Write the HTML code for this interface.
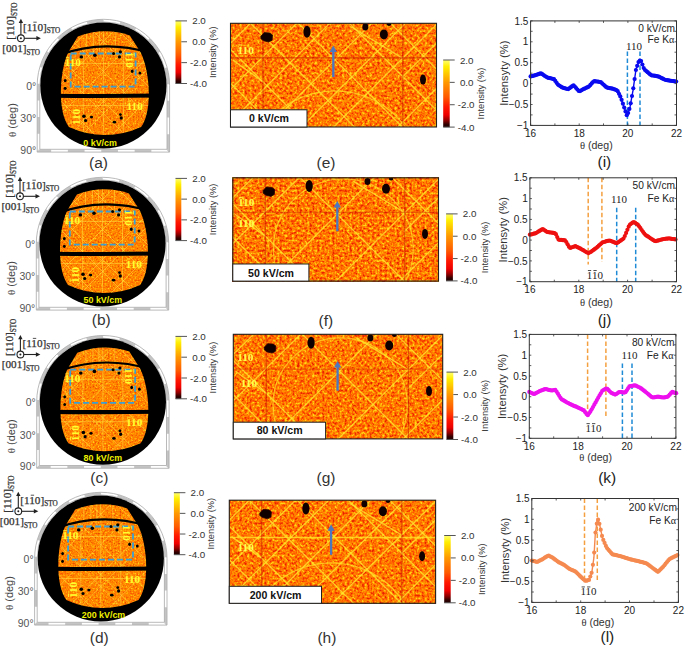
<!DOCTYPE html>
<html><head><meta charset="utf-8"><style>
html,body{margin:0;padding:0;background:#fff;}
svg{display:block;}
</style></head><body>
<svg width="685" height="648" viewBox="0 0 685 648">
<defs>
<linearGradient id="cbar" x1="0" y1="0" x2="0" y2="1">
<stop offset="0" stop-color="#ffff70"/>
<stop offset="0.1" stop-color="#ffee00"/>
<stop offset="0.33" stop-color="#ff9a00"/>
<stop offset="0.55" stop-color="#ff5a00"/>
<stop offset="0.7" stop-color="#ff1800"/>
<stop offset="0.82" stop-color="#ee0000"/>
<stop offset="0.9" stop-color="#900000"/>
<stop offset="0.96" stop-color="#300000"/>
<stop offset="1" stop-color="#200000"/>
</linearGradient>
<filter id="hotL0" x="0" y="0" width="1" height="1" color-interpolation-filters="sRGB">
<feTurbulence type="fractalNoise" baseFrequency="0.6" numOctaves="2" seed="3"/>
<feColorMatrix type="matrix" values="1.7 0 0 0 -0.35 1.7 0 0 0 -0.35 1.7 0 0 0 -0.35 0 0 0 0 1"/>
<feComponentTransfer>
<feFuncR type="table" tableValues="0.9 1 1 1 1"/>
<feFuncG type="table" tableValues="0.3 0.42 0.52 0.62 0.8"/>
<feFuncB type="table" tableValues="0 0 0 0 0.1"/>
</feComponentTransfer>
<feGaussianBlur stdDeviation="0.35"/>
</filter>
<clipPath id="barrel0"><path d="M77.80,36.50 Q103.80,26.60 129.80,35.40 L140.40,52.00 C149.90,70.50 152.90,110.50 141.10,127.00 Q105.00,143.20 68.90,127.00 C56.90,110.50 59.90,70.50 67.90,53.00 L77.80,36.50 Z"/></clipPath>
<filter id="hotL1" x="0" y="0" width="1" height="1" color-interpolation-filters="sRGB">
<feTurbulence type="fractalNoise" baseFrequency="0.6" numOctaves="2" seed="7"/>
<feColorMatrix type="matrix" values="1.7 0 0 0 -0.35 1.7 0 0 0 -0.35 1.7 0 0 0 -0.35 0 0 0 0 1"/>
<feComponentTransfer>
<feFuncR type="table" tableValues="0.9 1 1 1 1"/>
<feFuncG type="table" tableValues="0.3 0.42 0.52 0.62 0.8"/>
<feFuncB type="table" tableValues="0 0 0 0 0.1"/>
</feComponentTransfer>
<feGaussianBlur stdDeviation="0.35"/>
</filter>
<clipPath id="barrel1"><path d="M76.90,194.50 Q102.90,184.60 128.90,193.40 L139.50,210.00 C149.00,228.50 152.00,268.50 140.20,285.00 Q104.10,301.20 68.00,285.00 C56.00,268.50 59.00,228.50 67.00,211.00 L76.90,194.50 Z"/></clipPath>
<filter id="hotL2" x="0" y="0" width="1" height="1" color-interpolation-filters="sRGB">
<feTurbulence type="fractalNoise" baseFrequency="0.6" numOctaves="2" seed="11"/>
<feColorMatrix type="matrix" values="1.7 0 0 0 -0.35 1.7 0 0 0 -0.35 1.7 0 0 0 -0.35 0 0 0 0 1"/>
<feComponentTransfer>
<feFuncR type="table" tableValues="0.9 1 1 1 1"/>
<feFuncG type="table" tableValues="0.3 0.42 0.52 0.62 0.8"/>
<feFuncB type="table" tableValues="0 0 0 0 0.1"/>
</feComponentTransfer>
<feGaussianBlur stdDeviation="0.35"/>
</filter>
<clipPath id="barrel2"><path d="M77.30,352.70 Q103.30,342.80 129.30,351.60 L139.90,368.20 C149.40,386.70 152.40,426.70 140.60,443.20 Q104.50,459.40 68.40,443.20 C56.40,426.70 59.40,386.70 67.40,369.20 L77.30,352.70 Z"/></clipPath>
<filter id="hotL3" x="0" y="0" width="1" height="1" color-interpolation-filters="sRGB">
<feTurbulence type="fractalNoise" baseFrequency="0.6" numOctaves="2" seed="17"/>
<feColorMatrix type="matrix" values="1.7 0 0 0 -0.35 1.7 0 0 0 -0.35 1.7 0 0 0 -0.35 0 0 0 0 1"/>
<feComponentTransfer>
<feFuncR type="table" tableValues="0.9 1 1 1 1"/>
<feFuncG type="table" tableValues="0.3 0.42 0.52 0.62 0.8"/>
<feFuncB type="table" tableValues="0 0 0 0 0.1"/>
</feComponentTransfer>
<feGaussianBlur stdDeviation="0.35"/>
</filter>
<clipPath id="barrel3"><path d="M75.20,509.50 Q101.20,499.60 127.20,508.40 L137.80,525.00 C147.30,543.50 150.30,583.50 138.50,600.00 Q102.40,616.20 66.30,600.00 C54.30,583.50 57.30,543.50 65.30,526.00 L75.20,509.50 Z"/></clipPath>
<filter id="hotM0" x="0" y="0" width="1" height="1" color-interpolation-filters="sRGB">
<feTurbulence type="fractalNoise" baseFrequency="0.4" numOctaves="2" seed="21"/>
<feColorMatrix type="matrix" values="1.9 0 0 0 -0.44999999999999996 1.9 0 0 0 -0.44999999999999996 1.9 0 0 0 -0.44999999999999996 0 0 0 0 1"/>
<feComponentTransfer>
<feFuncR type="table" tableValues="0.9 1 1 1 1"/>
<feFuncG type="table" tableValues="0.14 0.31 0.47 0.62 0.84"/>
<feFuncB type="table" tableValues="0 0 0 0 0.1"/>
</feComponentTransfer>
<feGaussianBlur stdDeviation="0.35"/>
</filter>
<clipPath id="mclip0"><rect x="230.5" y="23.3" width="206.0" height="103.7"/></clipPath>
<filter id="hotM1" x="0" y="0" width="1" height="1" color-interpolation-filters="sRGB">
<feTurbulence type="fractalNoise" baseFrequency="0.4" numOctaves="2" seed="23"/>
<feColorMatrix type="matrix" values="1.9 0 0 0 -0.44999999999999996 1.9 0 0 0 -0.44999999999999996 1.9 0 0 0 -0.44999999999999996 0 0 0 0 1"/>
<feComponentTransfer>
<feFuncR type="table" tableValues="0.9 1 1 1 1"/>
<feFuncG type="table" tableValues="0.14 0.31 0.47 0.62 0.84"/>
<feFuncB type="table" tableValues="0 0 0 0 0.1"/>
</feComponentTransfer>
<feGaussianBlur stdDeviation="0.35"/>
</filter>
<clipPath id="mclip1"><rect x="232.8" y="177.8" width="205.7" height="103.30000000000001"/></clipPath>
<filter id="hotM2" x="0" y="0" width="1" height="1" color-interpolation-filters="sRGB">
<feTurbulence type="fractalNoise" baseFrequency="0.4" numOctaves="2" seed="29"/>
<feColorMatrix type="matrix" values="1.9 0 0 0 -0.44999999999999996 1.9 0 0 0 -0.44999999999999996 1.9 0 0 0 -0.44999999999999996 0 0 0 0 1"/>
<feComponentTransfer>
<feFuncR type="table" tableValues="0.9 1 1 1 1"/>
<feFuncG type="table" tableValues="0.14 0.31 0.47 0.62 0.84"/>
<feFuncB type="table" tableValues="0 0 0 0 0.1"/>
</feComponentTransfer>
<feGaussianBlur stdDeviation="0.35"/>
</filter>
<clipPath id="mclip2"><rect x="233.3" y="334.3" width="209.39999999999998" height="104.59999999999997"/></clipPath>
<filter id="hotM3" x="0" y="0" width="1" height="1" color-interpolation-filters="sRGB">
<feTurbulence type="fractalNoise" baseFrequency="0.4" numOctaves="2" seed="31"/>
<feColorMatrix type="matrix" values="1.9 0 0 0 -0.44999999999999996 1.9 0 0 0 -0.44999999999999996 1.9 0 0 0 -0.44999999999999996 0 0 0 0 1"/>
<feComponentTransfer>
<feFuncR type="table" tableValues="0.9 1 1 1 1"/>
<feFuncG type="table" tableValues="0.14 0.31 0.47 0.62 0.84"/>
<feFuncB type="table" tableValues="0 0 0 0 0.1"/>
</feComponentTransfer>
<feGaussianBlur stdDeviation="0.35"/>
</filter>
<clipPath id="mclip3"><rect x="229.3" y="500.2" width="206.3" height="103.09999999999997"/></clipPath>
</defs>
<rect width="685" height="648" fill="#fff"/>
<path d="M38.50,150.70 L38.50,85.50 A64.9,64.9 0 0 1 168.30,85.50 L168.30,150.70 Z" fill="none" stroke="#c4c4c4" stroke-width="2.4" stroke-dasharray="16.7 16.7" stroke-dashoffset="16.5"/>
<path d="M37.20,152.10 L37.20,85.50 A66.2,66.2 0 0 1 169.60,85.50 L169.60,152.10 Z" fill="none" stroke="#a8a8a8" stroke-width="0.8"/>
<path d="M39.80,149.30 L39.80,85.50 A63.6,63.6 0 0 1 167.00,85.50 L167.00,149.30 Z" fill="none" stroke="#a8a8a8" stroke-width="0.8"/>
<circle cx="103.4" cy="85.5" r="63.1" fill="#000"/>
<g clip-path="url(#barrel0)"><rect x="48.400000000000006" y="23.5" width="110" height="120" filter="url(#hotL0)"/>
<g stroke="#ffe040" stroke-width="0.8" stroke-opacity="0.65"><line x1="99.4" y1="29.5" x2="99.4" y2="51.5"/><line x1="103.4" y1="29.5" x2="103.4" y2="51.5"/><line x1="115.4" y1="29.5" x2="115.4" y2="51.5"/><line x1="86.4" y1="29.5" x2="86.4" y2="51.5"/><line x1="93.4" y1="29.5" x2="93.4" y2="51.5"/><line x1="149.4" y1="25.5" x2="29.400000000000006" y2="145.5"/><line x1="179.4" y1="25.5" x2="59.400000000000006" y2="145.5"/><line x1="119.4" y1="25.5" x2="-0.5999999999999943" y2="145.5"/><line x1="191.4" y1="25.5" x2="71.4" y2="145.5"/><line x1="221.4" y1="25.5" x2="101.4" y2="145.5"/><line x1="93.4" y1="25.5" x2="-26.599999999999994" y2="145.5"/><line x1="57.400000000000006" y1="25.5" x2="177.4" y2="145.5"/><line x1="27.400000000000006" y1="25.5" x2="147.4" y2="145.5"/><line x1="87.4" y1="25.5" x2="207.4" y2="145.5"/><line x1="15.400000000000006" y1="25.5" x2="135.4" y2="145.5"/><line x1="-14.599999999999994" y1="25.5" x2="105.4" y2="145.5"/><line x1="113.4" y1="25.5" x2="233.4" y2="145.5"/><line x1="53.400000000000006" y1="63.5" x2="153.4" y2="63.5"/><line x1="53.400000000000006" y1="105.5" x2="153.4" y2="105.5"/><line x1="103.4" y1="51.5" x2="103.4" y2="145.5"/><line x1="83.4" y1="51.5" x2="83.4" y2="145.5"/><line x1="123.4" y1="51.5" x2="123.4" y2="145.5"/></g>
</g>
<path d="M51.400000000000006,95.7 Q106.4,96.3 161.4,95.5" stroke="#000" stroke-width="4.1" fill="none"/>
<path d="M58.400000000000006,55.2 Q103.5,38.8 149.4,52.8" stroke="#000" stroke-width="2.1" fill="none"/>
<rect x="70.7" y="53.5" width="64.9" height="33.1" fill="none" stroke="#3a9fd4" stroke-width="1.8" stroke-dasharray="6 3"/>
<ellipse cx="81.30000000000001" cy="56.9" rx="1.8" ry="1.6" fill="#000"/>
<ellipse cx="94.9" cy="55.2" rx="1.8" ry="1.8" fill="#000"/>
<ellipse cx="113.60000000000001" cy="53.5" rx="1.5" ry="1.5" fill="#000"/>
<ellipse cx="120.4" cy="51.8" rx="1.6" ry="1.6" fill="#000"/>
<ellipse cx="119.5" cy="56.9" rx="1.6" ry="1.6" fill="#000"/>
<ellipse cx="132.20000000000002" cy="71.3" rx="1.4" ry="1.8" fill="#000"/>
<ellipse cx="139.9" cy="73.0" rx="1.4" ry="1.6" fill="#000"/>
<ellipse cx="65.2" cy="80.6" rx="1.4" ry="1.6" fill="#000"/>
<ellipse cx="65.2" cy="88.3" rx="1.4" ry="1.6" fill="#000"/>
<ellipse cx="83.9" cy="116.3" rx="1.8" ry="1.8" fill="#000"/>
<ellipse cx="85.60000000000001" cy="120.5" rx="1.6" ry="1.6" fill="#000"/>
<ellipse cx="91.5" cy="117.1" rx="1.6" ry="1.4" fill="#000"/>
<ellipse cx="114.4" cy="122.2" rx="1.8" ry="1.4" fill="#000"/>
<ellipse cx="121.2" cy="118.0" rx="1.6" ry="1.8" fill="#000"/>
<ellipse cx="120.4" cy="114.6" rx="1.4" ry="1.4" fill="#000"/>
<g transform="translate(64.80,66.20) rotate(0)"><text x="0" y="0" font-family='"Liberation Serif", serif' font-size="11.2" font-weight="bold" fill="#ffff30">110</text><line x1="1.12" y1="-8.51" x2="4.48" y2="-8.51" stroke="#ffff30" stroke-width="0.84"/></g>
<g transform="translate(126.60,109.50) rotate(0)"><text x="0" y="0" font-family='"Liberation Serif", serif' font-size="11.2" font-weight="bold" fill="#ffff30">110</text><line x1="1.12" y1="-8.51" x2="4.48" y2="-8.51" stroke="#ffff30" stroke-width="0.84"/></g>
<g transform="translate(125.80,51.70) rotate(90)"><text x="0" y="0" font-family='"Liberation Serif", serif' font-size="11.2" font-weight="bold" fill="#ffff30">110</text><line x1="1.12" y1="-8.51" x2="4.48" y2="-8.51" stroke="#ffff30" stroke-width="0.84"/></g>
<g transform="translate(79.60,125.10) rotate(-90)"><text x="0" y="0" font-family='"Liberation Serif", serif' font-size="11.2" font-weight="bold" fill="#ffff30">110</text><line x1="1.12" y1="-8.51" x2="4.48" y2="-8.51" stroke="#ffff30" stroke-width="0.84"/></g>
<text x="83.30" y="145.70" font-family='"Liberation Sans", sans-serif' font-size="8.9" fill="#f0f000" text-anchor="start" font-weight="bold" >0 kV/cm</text>
<text x="36.20" y="89.50" font-family='"Liberation Sans", sans-serif' font-size="10.5" fill="#555" text-anchor="end" font-weight="normal" >0°</text>
<text x="36.20" y="122.30" font-family='"Liberation Sans", sans-serif' font-size="10.5" fill="#555" text-anchor="end" font-weight="normal" >30°</text>
<text x="36.20" y="153.70" font-family='"Liberation Sans", sans-serif' font-size="10.5" fill="#555" text-anchor="end" font-weight="normal" >90°</text>
<text x="0" y="0" transform="translate(15.900000000000006,120.1) rotate(-90)" font-family='"Liberation Sans", sans-serif' font-size="11" fill="#444" text-anchor="middle"><tspan font-family='"Liberation Serif", serif'>θ</tspan> (deg)</text>
<text x="98.50" y="167.50" font-family='"Liberation Sans", sans-serif' font-size="15.5" fill="#333" text-anchor="middle" font-weight="normal" >(a)</text>
<circle cx="20.900000000000006" cy="38.3" r="3.4" fill="none" stroke="#222" stroke-width="1.1"/>
<circle cx="20.900000000000006" cy="38.3" r="1" fill="#222"/>
<line x1="20.900000000000006" y1="34.9" x2="20.900000000000006" y2="22.299999999999997" stroke="#222" stroke-width="1.1"/>
<path d="M18.700000000000006,23.099999999999998 L20.900000000000006,18.699999999999996 L23.100000000000005,23.099999999999998 Z" fill="#222"/>
<line x1="24.300000000000004" y1="38.3" x2="37.400000000000006" y2="38.3" stroke="#222" stroke-width="1.1"/>
<path d="M36.400000000000006,36.099999999999994 L40.900000000000006,38.3 L36.400000000000006,40.5 Z" fill="#222"/>
<g transform="translate(13.800000000000006,39.8) rotate(-90)"><text x="0" y="0" font-family='"Liberation Serif", serif' font-size="11.2" fill="#333" stroke="#333" stroke-width="0.25">[110]<tspan font-size="7.2" dy="2.8">STO</tspan></text></g>
<g transform="translate(22.90,30.70) rotate(0)"><text x="0" y="0" font-family='"Liberation Serif", serif' font-size="11.2" font-weight="normal" fill="#333" stroke="#333" stroke-width="0.25">[110]<tspan font-size="7.2" dy="2.46">STO</tspan></text><line x1="10.45" y1="-8.51" x2="13.81" y2="-8.51" stroke="#333" stroke-width="0.84"/></g>
<text x="2.3000000000000043" y="52.199999999999996" font-family='"Liberation Serif", serif' font-size="11.2" fill="#333" stroke="#333" stroke-width="0.25">[001]<tspan font-size="7.2" dy="2.5">STO</tspan></text>
<rect x="175.5" y="20.9" width="5.800000000000011" height="62.6" fill="url(#cbar)"/>
<line x1="175.5" y1="20.90" x2="187.0" y2="20.90" stroke="#555" stroke-width="1"/>
<text x="192.20" y="24.43" font-family='"Liberation Sans", sans-serif' font-size="9.8" fill="#333" text-anchor="start" font-weight="normal" >2.0</text>
<line x1="181.3" y1="41.77" x2="187.0" y2="41.77" stroke="#555" stroke-width="1"/>
<text x="192.20" y="45.29" font-family='"Liberation Sans", sans-serif' font-size="9.8" fill="#333" text-anchor="start" font-weight="normal" >0.0</text>
<line x1="181.3" y1="62.63" x2="187.0" y2="62.63" stroke="#555" stroke-width="1"/>
<text x="190.00" y="66.16" font-family='"Liberation Sans", sans-serif' font-size="9.8" fill="#333" text-anchor="start" font-weight="normal" >-2.0</text>
<line x1="175.5" y1="83.50" x2="187.0" y2="83.50" stroke="#555" stroke-width="1"/>
<text x="190.00" y="87.03" font-family='"Liberation Sans", sans-serif' font-size="9.8" fill="#333" text-anchor="start" font-weight="normal" >-4.0</text>
<text x="0" y="0" transform="translate(215.90,52.20) rotate(-90)" font-family='"Liberation Sans", sans-serif' font-size="9.3" fill="#333" text-anchor="middle">Intensity (%)</text>
<path d="M37.60,308.70 L37.60,243.50 A64.9,64.9 0 0 1 167.40,243.50 L167.40,308.70 Z" fill="none" stroke="#c4c4c4" stroke-width="2.4" stroke-dasharray="16.7 16.7" stroke-dashoffset="16.5"/>
<path d="M36.30,310.10 L36.30,243.50 A66.2,66.2 0 0 1 168.70,243.50 L168.70,310.10 Z" fill="none" stroke="#a8a8a8" stroke-width="0.8"/>
<path d="M38.90,307.30 L38.90,243.50 A63.6,63.6 0 0 1 166.10,243.50 L166.10,307.30 Z" fill="none" stroke="#a8a8a8" stroke-width="0.8"/>
<circle cx="102.5" cy="243.5" r="63.1" fill="#000"/>
<g clip-path="url(#barrel1)"><rect x="47.5" y="181.5" width="110" height="120" filter="url(#hotL1)"/>
<g stroke="#ffe040" stroke-width="0.8" stroke-opacity="0.65"><line x1="98.5" y1="187.5" x2="98.5" y2="209.5"/><line x1="102.5" y1="187.5" x2="102.5" y2="209.5"/><line x1="114.5" y1="187.5" x2="114.5" y2="209.5"/><line x1="85.5" y1="187.5" x2="85.5" y2="209.5"/><line x1="92.5" y1="187.5" x2="92.5" y2="209.5"/><line x1="148.5" y1="183.5" x2="28.5" y2="303.5"/><line x1="178.5" y1="183.5" x2="58.5" y2="303.5"/><line x1="118.5" y1="183.5" x2="-1.5" y2="303.5"/><line x1="190.5" y1="183.5" x2="70.5" y2="303.5"/><line x1="220.5" y1="183.5" x2="100.5" y2="303.5"/><line x1="92.5" y1="183.5" x2="-27.5" y2="303.5"/><line x1="56.5" y1="183.5" x2="176.5" y2="303.5"/><line x1="26.5" y1="183.5" x2="146.5" y2="303.5"/><line x1="86.5" y1="183.5" x2="206.5" y2="303.5"/><line x1="14.5" y1="183.5" x2="134.5" y2="303.5"/><line x1="-15.5" y1="183.5" x2="104.5" y2="303.5"/><line x1="112.5" y1="183.5" x2="232.5" y2="303.5"/><line x1="52.5" y1="221.5" x2="152.5" y2="221.5"/><line x1="52.5" y1="263.5" x2="152.5" y2="263.5"/><line x1="102.5" y1="209.5" x2="102.5" y2="303.5"/><line x1="82.5" y1="209.5" x2="82.5" y2="303.5"/><line x1="122.5" y1="209.5" x2="122.5" y2="303.5"/></g>
</g>
<path d="M50.5,253.7 Q105.5,254.3 160.5,253.5" stroke="#000" stroke-width="4.1" fill="none"/>
<path d="M57.5,213.2 Q102.6,196.8 148.5,210.8" stroke="#000" stroke-width="2.1" fill="none"/>
<rect x="69.8" y="211.5" width="64.9" height="33.1" fill="none" stroke="#3a9fd4" stroke-width="1.8" stroke-dasharray="6 3"/>
<ellipse cx="80.4" cy="214.9" rx="1.8" ry="1.6" fill="#000"/>
<ellipse cx="94.0" cy="213.2" rx="1.8" ry="1.8" fill="#000"/>
<ellipse cx="112.7" cy="211.5" rx="1.5" ry="1.5" fill="#000"/>
<ellipse cx="119.5" cy="209.8" rx="1.6" ry="1.6" fill="#000"/>
<ellipse cx="118.6" cy="214.9" rx="1.6" ry="1.6" fill="#000"/>
<ellipse cx="131.3" cy="229.3" rx="1.4" ry="1.8" fill="#000"/>
<ellipse cx="139.0" cy="231.0" rx="1.4" ry="1.6" fill="#000"/>
<ellipse cx="64.3" cy="238.6" rx="1.4" ry="1.6" fill="#000"/>
<ellipse cx="64.3" cy="246.3" rx="1.4" ry="1.6" fill="#000"/>
<ellipse cx="83.0" cy="274.3" rx="1.8" ry="1.8" fill="#000"/>
<ellipse cx="84.7" cy="278.5" rx="1.6" ry="1.6" fill="#000"/>
<ellipse cx="90.6" cy="275.1" rx="1.6" ry="1.4" fill="#000"/>
<ellipse cx="113.5" cy="280.2" rx="1.8" ry="1.4" fill="#000"/>
<ellipse cx="120.3" cy="276.0" rx="1.6" ry="1.8" fill="#000"/>
<ellipse cx="119.5" cy="272.6" rx="1.4" ry="1.4" fill="#000"/>
<g transform="translate(63.90,224.20) rotate(0)"><text x="0" y="0" font-family='"Liberation Serif", serif' font-size="11.2" font-weight="bold" fill="#ffff30">110</text><line x1="1.12" y1="-8.51" x2="4.48" y2="-8.51" stroke="#ffff30" stroke-width="0.84"/></g>
<g transform="translate(125.70,267.50) rotate(0)"><text x="0" y="0" font-family='"Liberation Serif", serif' font-size="11.2" font-weight="bold" fill="#ffff30">110</text><line x1="1.12" y1="-8.51" x2="4.48" y2="-8.51" stroke="#ffff30" stroke-width="0.84"/></g>
<g transform="translate(124.90,209.70) rotate(90)"><text x="0" y="0" font-family='"Liberation Serif", serif' font-size="11.2" font-weight="bold" fill="#ffff30">110</text><line x1="1.12" y1="-8.51" x2="4.48" y2="-8.51" stroke="#ffff30" stroke-width="0.84"/></g>
<g transform="translate(78.70,283.10) rotate(-90)"><text x="0" y="0" font-family='"Liberation Serif", serif' font-size="11.2" font-weight="bold" fill="#ffff30">110</text><line x1="1.12" y1="-8.51" x2="4.48" y2="-8.51" stroke="#ffff30" stroke-width="0.84"/></g>
<text x="83.60" y="303.10" font-family='"Liberation Sans", sans-serif' font-size="8.9" fill="#f0f000" text-anchor="start" font-weight="bold" >50 kV/cm</text>
<text x="35.30" y="247.50" font-family='"Liberation Sans", sans-serif' font-size="10.5" fill="#555" text-anchor="end" font-weight="normal" >0°</text>
<text x="35.30" y="280.30" font-family='"Liberation Sans", sans-serif' font-size="10.5" fill="#555" text-anchor="end" font-weight="normal" >30°</text>
<text x="35.30" y="311.70" font-family='"Liberation Sans", sans-serif' font-size="10.5" fill="#555" text-anchor="end" font-weight="normal" >90°</text>
<text x="0" y="0" transform="translate(15.0,278.1) rotate(-90)" font-family='"Liberation Sans", sans-serif' font-size="11" fill="#444" text-anchor="middle"><tspan font-family='"Liberation Serif", serif'>θ</tspan> (deg)</text>
<text x="101.20" y="325.20" font-family='"Liberation Sans", sans-serif' font-size="15.5" fill="#333" text-anchor="middle" font-weight="normal" >(b)</text>
<circle cx="20.0" cy="196.3" r="3.4" fill="none" stroke="#222" stroke-width="1.1"/>
<circle cx="20.0" cy="196.3" r="1" fill="#222"/>
<line x1="20.0" y1="192.9" x2="20.0" y2="180.3" stroke="#222" stroke-width="1.1"/>
<path d="M17.8,181.10000000000002 L20.0,176.70000000000002 L22.2,181.10000000000002 Z" fill="#222"/>
<line x1="23.4" y1="196.3" x2="36.5" y2="196.3" stroke="#222" stroke-width="1.1"/>
<path d="M35.5,194.10000000000002 L40.0,196.3 L35.5,198.5 Z" fill="#222"/>
<g transform="translate(12.9,197.8) rotate(-90)"><text x="0" y="0" font-family='"Liberation Serif", serif' font-size="11.2" fill="#333" stroke="#333" stroke-width="0.25">[110]<tspan font-size="7.2" dy="2.8">STO</tspan></text></g>
<g transform="translate(22.00,188.70) rotate(0)"><text x="0" y="0" font-family='"Liberation Serif", serif' font-size="11.2" font-weight="normal" fill="#333" stroke="#333" stroke-width="0.25">[110]<tspan font-size="7.2" dy="2.46">STO</tspan></text><line x1="10.45" y1="-8.51" x2="13.81" y2="-8.51" stroke="#333" stroke-width="0.84"/></g>
<text x="1.3999999999999986" y="210.20000000000002" font-family='"Liberation Serif", serif' font-size="11.2" fill="#333" stroke="#333" stroke-width="0.25">[001]<tspan font-size="7.2" dy="2.5">STO</tspan></text>
<rect x="175.5" y="178.4" width="5.800000000000011" height="62.19999999999999" fill="url(#cbar)"/>
<line x1="175.5" y1="178.40" x2="187.0" y2="178.40" stroke="#555" stroke-width="1"/>
<text x="192.20" y="181.93" font-family='"Liberation Sans", sans-serif' font-size="9.8" fill="#333" text-anchor="start" font-weight="normal" >2.0</text>
<line x1="181.3" y1="199.13" x2="187.0" y2="199.13" stroke="#555" stroke-width="1"/>
<text x="192.20" y="202.66" font-family='"Liberation Sans", sans-serif' font-size="9.8" fill="#333" text-anchor="start" font-weight="normal" >0.0</text>
<line x1="181.3" y1="219.87" x2="187.0" y2="219.87" stroke="#555" stroke-width="1"/>
<text x="190.00" y="223.39" font-family='"Liberation Sans", sans-serif' font-size="9.8" fill="#333" text-anchor="start" font-weight="normal" >-2.0</text>
<line x1="175.5" y1="240.60" x2="187.0" y2="240.60" stroke="#555" stroke-width="1"/>
<text x="190.00" y="244.13" font-family='"Liberation Sans", sans-serif' font-size="9.8" fill="#333" text-anchor="start" font-weight="normal" >-4.0</text>
<text x="0" y="0" transform="translate(215.90,209.50) rotate(-90)" font-family='"Liberation Sans", sans-serif' font-size="9.3" fill="#333" text-anchor="middle">Intensity (%)</text>
<path d="M38.00,466.90 L38.00,401.70 A64.9,64.9 0 0 1 167.80,401.70 L167.80,466.90 Z" fill="none" stroke="#c4c4c4" stroke-width="2.4" stroke-dasharray="16.7 16.7" stroke-dashoffset="16.5"/>
<path d="M36.70,468.30 L36.70,401.70 A66.2,66.2 0 0 1 169.10,401.70 L169.10,468.30 Z" fill="none" stroke="#a8a8a8" stroke-width="0.8"/>
<path d="M39.30,465.50 L39.30,401.70 A63.6,63.6 0 0 1 166.50,401.70 L166.50,465.50 Z" fill="none" stroke="#a8a8a8" stroke-width="0.8"/>
<circle cx="102.9" cy="401.7" r="63.1" fill="#000"/>
<g clip-path="url(#barrel2)"><rect x="47.900000000000006" y="339.7" width="110" height="120" filter="url(#hotL2)"/>
<g stroke="#ffe040" stroke-width="0.8" stroke-opacity="0.65"><line x1="98.9" y1="345.7" x2="98.9" y2="367.7"/><line x1="102.9" y1="345.7" x2="102.9" y2="367.7"/><line x1="114.9" y1="345.7" x2="114.9" y2="367.7"/><line x1="85.9" y1="345.7" x2="85.9" y2="367.7"/><line x1="92.9" y1="345.7" x2="92.9" y2="367.7"/><line x1="148.9" y1="341.7" x2="28.900000000000006" y2="461.7"/><line x1="178.9" y1="341.7" x2="58.900000000000006" y2="461.7"/><line x1="118.9" y1="341.7" x2="-1.0999999999999943" y2="461.7"/><line x1="190.9" y1="341.7" x2="70.9" y2="461.7"/><line x1="220.9" y1="341.7" x2="100.9" y2="461.7"/><line x1="92.9" y1="341.7" x2="-27.099999999999994" y2="461.7"/><line x1="56.900000000000006" y1="341.7" x2="176.9" y2="461.7"/><line x1="26.900000000000006" y1="341.7" x2="146.9" y2="461.7"/><line x1="86.9" y1="341.7" x2="206.9" y2="461.7"/><line x1="14.900000000000006" y1="341.7" x2="134.9" y2="461.7"/><line x1="-15.099999999999994" y1="341.7" x2="104.9" y2="461.7"/><line x1="112.9" y1="341.7" x2="232.9" y2="461.7"/><line x1="52.900000000000006" y1="379.7" x2="152.9" y2="379.7"/><line x1="52.900000000000006" y1="421.7" x2="152.9" y2="421.7"/><line x1="102.9" y1="367.7" x2="102.9" y2="461.7"/><line x1="82.9" y1="367.7" x2="82.9" y2="461.7"/><line x1="122.9" y1="367.7" x2="122.9" y2="461.7"/></g>
</g>
<path d="M50.900000000000006,411.9 Q105.9,412.5 160.9,411.7" stroke="#000" stroke-width="4.1" fill="none"/>
<path d="M57.900000000000006,371.4 Q103.0,355.0 148.9,369.0" stroke="#000" stroke-width="2.1" fill="none"/>
<rect x="70.2" y="369.7" width="64.9" height="33.1" fill="none" stroke="#3a9fd4" stroke-width="1.8" stroke-dasharray="6 3"/>
<ellipse cx="80.80000000000001" cy="373.09999999999997" rx="1.8" ry="1.6" fill="#000"/>
<ellipse cx="94.4" cy="371.4" rx="1.8" ry="1.8" fill="#000"/>
<ellipse cx="113.10000000000001" cy="369.7" rx="1.5" ry="1.5" fill="#000"/>
<ellipse cx="119.9" cy="368.0" rx="1.6" ry="1.6" fill="#000"/>
<ellipse cx="119.0" cy="373.09999999999997" rx="1.6" ry="1.6" fill="#000"/>
<ellipse cx="131.70000000000002" cy="387.5" rx="1.4" ry="1.8" fill="#000"/>
<ellipse cx="139.4" cy="389.2" rx="1.4" ry="1.6" fill="#000"/>
<ellipse cx="64.7" cy="396.8" rx="1.4" ry="1.6" fill="#000"/>
<ellipse cx="64.7" cy="404.5" rx="1.4" ry="1.6" fill="#000"/>
<ellipse cx="83.4" cy="432.5" rx="1.8" ry="1.8" fill="#000"/>
<ellipse cx="85.10000000000001" cy="436.7" rx="1.6" ry="1.6" fill="#000"/>
<ellipse cx="91.0" cy="433.3" rx="1.6" ry="1.4" fill="#000"/>
<ellipse cx="113.9" cy="438.4" rx="1.8" ry="1.4" fill="#000"/>
<ellipse cx="120.7" cy="434.2" rx="1.6" ry="1.8" fill="#000"/>
<ellipse cx="119.9" cy="430.8" rx="1.4" ry="1.4" fill="#000"/>
<g transform="translate(64.30,382.40) rotate(0)"><text x="0" y="0" font-family='"Liberation Serif", serif' font-size="11.2" font-weight="bold" fill="#ffff30">110</text><line x1="1.12" y1="-8.51" x2="4.48" y2="-8.51" stroke="#ffff30" stroke-width="0.84"/></g>
<g transform="translate(126.10,425.70) rotate(0)"><text x="0" y="0" font-family='"Liberation Serif", serif' font-size="11.2" font-weight="bold" fill="#ffff30">110</text><line x1="1.12" y1="-8.51" x2="4.48" y2="-8.51" stroke="#ffff30" stroke-width="0.84"/></g>
<g transform="translate(125.30,367.90) rotate(90)"><text x="0" y="0" font-family='"Liberation Serif", serif' font-size="11.2" font-weight="bold" fill="#ffff30">110</text><line x1="1.12" y1="-8.51" x2="4.48" y2="-8.51" stroke="#ffff30" stroke-width="0.84"/></g>
<g transform="translate(79.10,441.30) rotate(-90)"><text x="0" y="0" font-family='"Liberation Serif", serif' font-size="11.2" font-weight="bold" fill="#ffff30">110</text><line x1="1.12" y1="-8.51" x2="4.48" y2="-8.51" stroke="#ffff30" stroke-width="0.84"/></g>
<text x="83.60" y="461.30" font-family='"Liberation Sans", sans-serif' font-size="8.9" fill="#f0f000" text-anchor="start" font-weight="bold" >80 kV/cm</text>
<text x="35.70" y="405.70" font-family='"Liberation Sans", sans-serif' font-size="10.5" fill="#555" text-anchor="end" font-weight="normal" >0°</text>
<text x="35.70" y="438.50" font-family='"Liberation Sans", sans-serif' font-size="10.5" fill="#555" text-anchor="end" font-weight="normal" >30°</text>
<text x="35.70" y="469.90" font-family='"Liberation Sans", sans-serif' font-size="10.5" fill="#555" text-anchor="end" font-weight="normal" >90°</text>
<text x="0" y="0" transform="translate(15.400000000000006,436.3) rotate(-90)" font-family='"Liberation Sans", sans-serif' font-size="11" fill="#444" text-anchor="middle"><tspan font-family='"Liberation Serif", serif'>θ</tspan> (deg)</text>
<text x="99.30" y="483.20" font-family='"Liberation Sans", sans-serif' font-size="15.5" fill="#333" text-anchor="middle" font-weight="normal" >(c)</text>
<circle cx="20.400000000000006" cy="354.5" r="3.4" fill="none" stroke="#222" stroke-width="1.1"/>
<circle cx="20.400000000000006" cy="354.5" r="1" fill="#222"/>
<line x1="20.400000000000006" y1="351.1" x2="20.400000000000006" y2="338.5" stroke="#222" stroke-width="1.1"/>
<path d="M18.200000000000006,339.3 L20.400000000000006,334.9 L22.600000000000005,339.3 Z" fill="#222"/>
<line x1="23.800000000000004" y1="354.5" x2="36.900000000000006" y2="354.5" stroke="#222" stroke-width="1.1"/>
<path d="M35.900000000000006,352.3 L40.400000000000006,354.5 L35.900000000000006,356.7 Z" fill="#222"/>
<g transform="translate(13.300000000000006,356.0) rotate(-90)"><text x="0" y="0" font-family='"Liberation Serif", serif' font-size="11.2" fill="#333" stroke="#333" stroke-width="0.25">[110]<tspan font-size="7.2" dy="2.8">STO</tspan></text></g>
<g transform="translate(22.40,346.90) rotate(0)"><text x="0" y="0" font-family='"Liberation Serif", serif' font-size="11.2" font-weight="normal" fill="#333" stroke="#333" stroke-width="0.25">[110]<tspan font-size="7.2" dy="2.46">STO</tspan></text><line x1="10.45" y1="-8.51" x2="13.81" y2="-8.51" stroke="#333" stroke-width="0.84"/></g>
<text x="1.8000000000000043" y="368.4" font-family='"Liberation Serif", serif' font-size="11.2" fill="#333" stroke="#333" stroke-width="0.25">[001]<tspan font-size="7.2" dy="2.5">STO</tspan></text>
<rect x="175.5" y="336.4" width="5.800000000000011" height="62.400000000000034" fill="url(#cbar)"/>
<line x1="175.5" y1="336.40" x2="187.0" y2="336.40" stroke="#555" stroke-width="1"/>
<text x="192.20" y="339.93" font-family='"Liberation Sans", sans-serif' font-size="9.8" fill="#333" text-anchor="start" font-weight="normal" >2.0</text>
<line x1="181.3" y1="357.20" x2="187.0" y2="357.20" stroke="#555" stroke-width="1"/>
<text x="192.20" y="360.73" font-family='"Liberation Sans", sans-serif' font-size="9.8" fill="#333" text-anchor="start" font-weight="normal" >0.0</text>
<line x1="181.3" y1="378.00" x2="187.0" y2="378.00" stroke="#555" stroke-width="1"/>
<text x="190.00" y="381.53" font-family='"Liberation Sans", sans-serif' font-size="9.8" fill="#333" text-anchor="start" font-weight="normal" >-2.0</text>
<line x1="175.5" y1="398.80" x2="187.0" y2="398.80" stroke="#555" stroke-width="1"/>
<text x="190.00" y="402.33" font-family='"Liberation Sans", sans-serif' font-size="9.8" fill="#333" text-anchor="start" font-weight="normal" >-4.0</text>
<text x="0" y="0" transform="translate(215.90,367.60) rotate(-90)" font-family='"Liberation Sans", sans-serif' font-size="9.3" fill="#333" text-anchor="middle">Intensity (%)</text>
<path d="M35.90,623.70 L35.90,558.50 A64.9,64.9 0 0 1 165.70,558.50 L165.70,623.70 Z" fill="none" stroke="#c4c4c4" stroke-width="2.4" stroke-dasharray="16.7 16.7" stroke-dashoffset="16.5"/>
<path d="M34.60,625.10 L34.60,558.50 A66.2,66.2 0 0 1 167.00,558.50 L167.00,625.10 Z" fill="none" stroke="#a8a8a8" stroke-width="0.8"/>
<path d="M37.20,622.30 L37.20,558.50 A63.6,63.6 0 0 1 164.40,558.50 L164.40,622.30 Z" fill="none" stroke="#a8a8a8" stroke-width="0.8"/>
<circle cx="100.8" cy="558.5" r="63.1" fill="#000"/>
<g clip-path="url(#barrel3)"><rect x="45.8" y="496.5" width="110" height="120" filter="url(#hotL3)"/>
<g stroke="#ffe040" stroke-width="0.8" stroke-opacity="0.65"><line x1="96.8" y1="502.5" x2="96.8" y2="524.5"/><line x1="100.8" y1="502.5" x2="100.8" y2="524.5"/><line x1="112.8" y1="502.5" x2="112.8" y2="524.5"/><line x1="83.8" y1="502.5" x2="83.8" y2="524.5"/><line x1="90.8" y1="502.5" x2="90.8" y2="524.5"/><line x1="146.8" y1="498.5" x2="26.799999999999997" y2="618.5"/><line x1="176.8" y1="498.5" x2="56.8" y2="618.5"/><line x1="116.8" y1="498.5" x2="-3.200000000000003" y2="618.5"/><line x1="188.8" y1="498.5" x2="68.8" y2="618.5"/><line x1="218.8" y1="498.5" x2="98.8" y2="618.5"/><line x1="90.8" y1="498.5" x2="-29.200000000000003" y2="618.5"/><line x1="54.8" y1="498.5" x2="174.8" y2="618.5"/><line x1="24.799999999999997" y1="498.5" x2="144.8" y2="618.5"/><line x1="84.8" y1="498.5" x2="204.8" y2="618.5"/><line x1="12.799999999999997" y1="498.5" x2="132.8" y2="618.5"/><line x1="-17.200000000000003" y1="498.5" x2="102.8" y2="618.5"/><line x1="110.8" y1="498.5" x2="230.8" y2="618.5"/><line x1="50.8" y1="536.5" x2="150.8" y2="536.5"/><line x1="50.8" y1="578.5" x2="150.8" y2="578.5"/><line x1="100.8" y1="524.5" x2="100.8" y2="618.5"/><line x1="80.8" y1="524.5" x2="80.8" y2="618.5"/><line x1="120.8" y1="524.5" x2="120.8" y2="618.5"/></g>
</g>
<path d="M48.8,568.7 Q103.8,569.3 158.8,568.5" stroke="#000" stroke-width="4.1" fill="none"/>
<path d="M55.8,528.2 Q100.89999999999999,511.8 146.8,525.8" stroke="#000" stroke-width="2.1" fill="none"/>
<rect x="68.1" y="526.5" width="64.9" height="33.1" fill="none" stroke="#3a9fd4" stroke-width="1.8" stroke-dasharray="6 3"/>
<ellipse cx="78.69999999999999" cy="529.9" rx="1.8" ry="1.6" fill="#000"/>
<ellipse cx="92.3" cy="528.2" rx="1.8" ry="1.8" fill="#000"/>
<ellipse cx="111.0" cy="526.5" rx="1.5" ry="1.5" fill="#000"/>
<ellipse cx="117.8" cy="524.8" rx="1.6" ry="1.6" fill="#000"/>
<ellipse cx="116.9" cy="529.9" rx="1.6" ry="1.6" fill="#000"/>
<ellipse cx="129.6" cy="544.3" rx="1.4" ry="1.8" fill="#000"/>
<ellipse cx="137.3" cy="546.0" rx="1.4" ry="1.6" fill="#000"/>
<ellipse cx="62.599999999999994" cy="553.6" rx="1.4" ry="1.6" fill="#000"/>
<ellipse cx="62.599999999999994" cy="561.3" rx="1.4" ry="1.6" fill="#000"/>
<ellipse cx="81.3" cy="589.3" rx="1.8" ry="1.8" fill="#000"/>
<ellipse cx="83.0" cy="593.5" rx="1.6" ry="1.6" fill="#000"/>
<ellipse cx="88.89999999999999" cy="590.1" rx="1.6" ry="1.4" fill="#000"/>
<ellipse cx="111.8" cy="595.2" rx="1.8" ry="1.4" fill="#000"/>
<ellipse cx="118.6" cy="591.0" rx="1.6" ry="1.8" fill="#000"/>
<ellipse cx="117.8" cy="587.6" rx="1.4" ry="1.4" fill="#000"/>
<g transform="translate(62.20,539.20) rotate(0)"><text x="0" y="0" font-family='"Liberation Serif", serif' font-size="11.2" font-weight="bold" fill="#ffff30">110</text><line x1="1.12" y1="-8.51" x2="4.48" y2="-8.51" stroke="#ffff30" stroke-width="0.84"/></g>
<g transform="translate(124.00,582.50) rotate(0)"><text x="0" y="0" font-family='"Liberation Serif", serif' font-size="11.2" font-weight="bold" fill="#ffff30">110</text><line x1="1.12" y1="-8.51" x2="4.48" y2="-8.51" stroke="#ffff30" stroke-width="0.84"/></g>
<g transform="translate(123.20,524.70) rotate(90)"><text x="0" y="0" font-family='"Liberation Serif", serif' font-size="11.2" font-weight="bold" fill="#ffff30">110</text><line x1="1.12" y1="-8.51" x2="4.48" y2="-8.51" stroke="#ffff30" stroke-width="0.84"/></g>
<g transform="translate(77.00,598.10) rotate(-90)"><text x="0" y="0" font-family='"Liberation Serif", serif' font-size="11.2" font-weight="bold" fill="#ffff30">110</text><line x1="1.12" y1="-8.51" x2="4.48" y2="-8.51" stroke="#ffff30" stroke-width="0.84"/></g>
<text x="81.80" y="618.00" font-family='"Liberation Sans", sans-serif' font-size="8.9" fill="#f0f000" text-anchor="start" font-weight="bold" >200 kV/cm</text>
<text x="33.60" y="562.50" font-family='"Liberation Sans", sans-serif' font-size="10.5" fill="#555" text-anchor="end" font-weight="normal" >0°</text>
<text x="33.60" y="595.30" font-family='"Liberation Sans", sans-serif' font-size="10.5" fill="#555" text-anchor="end" font-weight="normal" >30°</text>
<text x="33.60" y="626.70" font-family='"Liberation Sans", sans-serif' font-size="10.5" fill="#555" text-anchor="end" font-weight="normal" >90°</text>
<text x="0" y="0" transform="translate(13.299999999999997,593.1) rotate(-90)" font-family='"Liberation Sans", sans-serif' font-size="11" fill="#444" text-anchor="middle"><tspan font-family='"Liberation Serif", serif'>θ</tspan> (deg)</text>
<text x="99.30" y="643.10" font-family='"Liberation Sans", sans-serif' font-size="15.5" fill="#333" text-anchor="middle" font-weight="normal" >(d)</text>
<circle cx="18.299999999999997" cy="511.3" r="3.4" fill="none" stroke="#222" stroke-width="1.1"/>
<circle cx="18.299999999999997" cy="511.3" r="1" fill="#222"/>
<line x1="18.299999999999997" y1="507.90000000000003" x2="18.299999999999997" y2="495.3" stroke="#222" stroke-width="1.1"/>
<path d="M16.099999999999998,496.1 L18.299999999999997,491.7 L20.499999999999996,496.1 Z" fill="#222"/>
<line x1="21.699999999999996" y1="511.3" x2="34.8" y2="511.3" stroke="#222" stroke-width="1.1"/>
<path d="M33.8,509.1 L38.3,511.3 L33.8,513.5 Z" fill="#222"/>
<g transform="translate(11.199999999999998,512.8) rotate(-90)"><text x="0" y="0" font-family='"Liberation Serif", serif' font-size="11.2" fill="#333" stroke="#333" stroke-width="0.25">[110]<tspan font-size="7.2" dy="2.8">STO</tspan></text></g>
<g transform="translate(20.30,503.70) rotate(0)"><text x="0" y="0" font-family='"Liberation Serif", serif' font-size="11.2" font-weight="normal" fill="#333" stroke="#333" stroke-width="0.25">[110]<tspan font-size="7.2" dy="2.46">STO</tspan></text><line x1="10.45" y1="-8.51" x2="13.81" y2="-8.51" stroke="#333" stroke-width="0.84"/></g>
<text x="-0.30000000000000426" y="525.2" font-family='"Liberation Serif", serif' font-size="11.2" fill="#333" stroke="#333" stroke-width="0.25">[001]<tspan font-size="7.2" dy="2.5">STO</tspan></text>
<rect x="173.9" y="492.7" width="5.900000000000006" height="62.00000000000006" fill="url(#cbar)"/>
<line x1="173.9" y1="492.70" x2="185.4" y2="492.70" stroke="#555" stroke-width="1"/>
<text x="190.60" y="496.23" font-family='"Liberation Sans", sans-serif' font-size="9.8" fill="#333" text-anchor="start" font-weight="normal" >2.0</text>
<line x1="179.8" y1="513.37" x2="185.4" y2="513.37" stroke="#555" stroke-width="1"/>
<text x="190.60" y="516.89" font-family='"Liberation Sans", sans-serif' font-size="9.8" fill="#333" text-anchor="start" font-weight="normal" >0.0</text>
<line x1="179.8" y1="534.03" x2="185.4" y2="534.03" stroke="#555" stroke-width="1"/>
<text x="188.40" y="537.56" font-family='"Liberation Sans", sans-serif' font-size="9.8" fill="#333" text-anchor="start" font-weight="normal" >-2.0</text>
<line x1="173.9" y1="554.70" x2="185.4" y2="554.70" stroke="#555" stroke-width="1"/>
<text x="188.40" y="558.23" font-family='"Liberation Sans", sans-serif' font-size="9.8" fill="#333" text-anchor="start" font-weight="normal" >-4.0</text>
<text x="0" y="0" transform="translate(214.40,523.70) rotate(-90)" font-family='"Liberation Sans", sans-serif' font-size="9.3" fill="#333" text-anchor="middle">Intensity (%)</text>
<rect x="230.5" y="23.3" width="206.0" height="103.7" filter="url(#hotM0)"/>
<g clip-path="url(#mclip0)">
<g stroke="#ffe830" stroke-width="1.3" stroke-opacity="0.78"><line x1="306.7" y1="13.3" x2="176.7" y2="143.0"/><line x1="339.7" y1="13.3" x2="209.7" y2="143.0"/><line x1="381.7" y1="13.3" x2="251.7" y2="143.0"/><line x1="447.7" y1="13.3" x2="317.7" y2="143.0"/><line x1="511.7" y1="13.3" x2="381.7" y2="143.0"/><line x1="260.5" y1="13.3" x2="130.5" y2="143.0"/><line x1="415.5" y1="13.3" x2="285.5" y2="143.0"/><line x1="194.3" y1="13.3" x2="324.3" y2="143.0"/><line x1="288.3" y1="13.3" x2="418.3" y2="143.0"/><line x1="339.3" y1="13.3" x2="469.3" y2="143.0"/><line x1="240.5" y1="13.3" x2="370.5" y2="143.0"/><line x1="380.5" y1="13.3" x2="510.5" y2="143.0"/><line x1="160.5" y1="13.3" x2="290.5" y2="143.0"/><line x1="232.7" y1="59.9" x2="262.6" y2="81.6"/><line x1="351.3" y1="26.9" x2="402.0" y2="57.9"/><line x1="402.0" y1="77.4" x2="436.5" y2="43.2"/></g>
<circle cx="334.7" cy="177.8" r="87.0" stroke="#ffe428" stroke-width="1.2" stroke-opacity="0.7" fill="none"/>
<line x1="230.5" y1="57.9" x2="436.5" y2="57.9" stroke="#c01000" stroke-width="1.2" stroke-opacity="0.6"/>
<line x1="263.0" y1="23.3" x2="263.0" y2="127" stroke="#c01000" stroke-width="1.2" stroke-opacity="0.5"/>
<line x1="402.8" y1="23.3" x2="402.8" y2="127" stroke="#c01000" stroke-width="1.2" stroke-opacity="0.5"/>
<path d="M260.9,36.2 L264.2,32.6 L269.7,33.0 L272.5,35.0 L272.1,40.2 L268.7,42.0 L263.7,40.8 L260.9,38.7 Z" fill="#100000" stroke="#300000" stroke-width="0.8" stroke-linejoin="round"/>
<ellipse cx="307.0" cy="31.7" rx="3.6" ry="6" fill="#100000"/>
<ellipse cx="365.4" cy="27.0" rx="3" ry="3.4" fill="#100000"/>
<ellipse cx="383.9" cy="34.4" rx="4" ry="5" fill="#100000"/>
<ellipse cx="389.0" cy="24.3" rx="2.2" ry="1.8" fill="#100000"/>
<ellipse cx="423.0" cy="79.6" rx="3" ry="5" fill="#100000"/>
</g>
<rect x="230.5" y="23.3" width="206.0" height="103.7" fill="none" stroke="#222" stroke-width="1.1"/>
<line x1="333.3" y1="77" x2="333.3" y2="50.5" stroke="#4d78c0" stroke-width="2.3"/>
<path d="M329.7,52.0 L333.3,45.5 L336.90000000000003,52.0 Z" fill="#4d78c0"/>
<rect x="230.5" y="109.8" width="76.5" height="17.200000000000003" fill="#fff" stroke="#222" stroke-width="1"/>
<text x="268.95" y="122.40" font-family='"Liberation Sans", sans-serif' font-size="10.6" fill="#111" text-anchor="middle" font-weight="bold" >0 kV/cm</text>
<g transform="translate(237.50,53.50) rotate(0)"><text x="0" y="0" font-family='"Liberation Serif", serif' font-size="11.3" font-weight="bold" fill="#ffff50">110</text><line x1="1.13" y1="-8.59" x2="4.52" y2="-8.59" stroke="#ffff50" stroke-width="0.85"/></g>
<text x="326.00" y="167.80" font-family='"Liberation Sans", sans-serif' font-size="15.5" fill="#333" text-anchor="middle" font-weight="normal" >(e)</text>
<rect x="443.2" y="60" width="6.5" height="67.1" fill="url(#cbar)"/>
<line x1="443.2" y1="60.00" x2="454.7" y2="60.00" stroke="#555" stroke-width="1"/>
<text x="459.90" y="63.53" font-family='"Liberation Sans", sans-serif' font-size="9.8" fill="#333" text-anchor="start" font-weight="normal" >2.0</text>
<line x1="449.7" y1="82.37" x2="454.7" y2="82.37" stroke="#555" stroke-width="1"/>
<text x="459.90" y="85.89" font-family='"Liberation Sans", sans-serif' font-size="9.8" fill="#333" text-anchor="start" font-weight="normal" >0.0</text>
<line x1="449.7" y1="104.73" x2="454.7" y2="104.73" stroke="#555" stroke-width="1"/>
<text x="457.70" y="108.26" font-family='"Liberation Sans", sans-serif' font-size="9.8" fill="#333" text-anchor="start" font-weight="normal" >-2.0</text>
<line x1="443.2" y1="127.10" x2="454.7" y2="127.10" stroke="#555" stroke-width="1"/>
<text x="457.70" y="130.63" font-family='"Liberation Sans", sans-serif' font-size="9.8" fill="#333" text-anchor="start" font-weight="normal" >-4.0</text>
<text x="0" y="0" transform="translate(484.30,93.55) rotate(-90)" font-family='"Liberation Sans", sans-serif' font-size="9.3" fill="#333" text-anchor="middle">Intensity (%)</text>
<rect x="232.8" y="177.8" width="205.7" height="103.30000000000001" filter="url(#hotM1)"/>
<g clip-path="url(#mclip1)">
<g stroke="#ffe830" stroke-width="1.3" stroke-opacity="0.78"><line x1="308.9" y1="167.9" x2="179.1" y2="297.0"/><line x1="383.8" y1="167.9" x2="254.0" y2="297.0"/><line x1="449.7" y1="167.9" x2="319.9" y2="297.0"/><line x1="513.6" y1="167.9" x2="383.8" y2="297.0"/><line x1="262.8" y1="167.9" x2="132.9" y2="297.0"/><line x1="196.7" y1="167.9" x2="326.5" y2="297.0"/><line x1="290.5" y1="167.9" x2="420.3" y2="297.0"/><line x1="382.6" y1="167.9" x2="512.4" y2="297.0"/><line x1="162.9" y1="167.9" x2="292.7" y2="297.0"/><line x1="235.0" y1="214.3" x2="264.9" y2="235.9"/><line x1="353.4" y1="181.4" x2="404.1" y2="212.3"/><line x1="404.1" y1="231.7" x2="438.5" y2="197.7"/></g>
<circle cx="343.3" cy="248.9" r="69.9" stroke="#ffe428" stroke-width="1.2" stroke-opacity="0.7" fill="none"/>
<line x1="232.8" y1="212.3" x2="438.5" y2="212.3" stroke="#c01000" stroke-width="1.2" stroke-opacity="0.35"/>
<line x1="265.3" y1="177.8" x2="265.3" y2="281.1" stroke="#c01000" stroke-width="1.2" stroke-opacity="0.5"/>
<line x1="404.8" y1="177.8" x2="404.8" y2="281.1" stroke="#c01000" stroke-width="1.2" stroke-opacity="0.5"/>
<path d="M263.1,190.6 L266.4,187.0 L271.9,187.4 L274.7,189.4 L274.3,194.6 L270.9,196.4 L265.9,195.2 L263.1,193.1 Z" fill="#100000" stroke="#300000" stroke-width="0.8" stroke-linejoin="round"/>
<ellipse cx="309.2" cy="186.1" rx="3.6" ry="6" fill="#100000"/>
<ellipse cx="367.5" cy="181.5" rx="3" ry="3.4" fill="#100000"/>
<ellipse cx="386.0" cy="188.8" rx="4" ry="5" fill="#100000"/>
<ellipse cx="391.1" cy="178.8" rx="2.2" ry="1.8" fill="#100000"/>
<ellipse cx="425.0" cy="233.9" rx="3" ry="5" fill="#100000"/>
</g>
<rect x="232.8" y="177.8" width="205.7" height="103.30000000000001" fill="none" stroke="#222" stroke-width="1.1"/>
<line x1="337.3" y1="231.2" x2="337.3" y2="206" stroke="#4d78c0" stroke-width="2.3"/>
<path d="M333.7,207.5 L337.3,201 L340.90000000000003,207.5 Z" fill="#4d78c0"/>
<rect x="232.8" y="264" width="76.09999999999997" height="17.100000000000023" fill="#fff" stroke="#222" stroke-width="1"/>
<text x="271.05" y="276.50" font-family='"Liberation Sans", sans-serif' font-size="10.6" fill="#111" text-anchor="middle" font-weight="bold" >50 kV/cm</text>
<g transform="translate(238.00,206.00) rotate(0)"><text x="0" y="0" font-family='"Liberation Serif", serif' font-size="11.3" font-weight="bold" fill="#ffff50">110</text><line x1="1.13" y1="-8.59" x2="4.52" y2="-8.59" stroke="#ffff50" stroke-width="0.85"/></g>
<g transform="translate(238.00,226.70) rotate(0)"><text x="0" y="0" font-family='"Liberation Serif", serif' font-size="11.3" font-weight="bold" fill="#ffff50">110</text></g>
<text x="325.90" y="325.60" font-family='"Liberation Sans", sans-serif' font-size="15.5" fill="#333" text-anchor="middle" font-weight="normal" >(f)</text>
<rect x="446.1" y="213.9" width="6.7999999999999545" height="66.99999999999997" fill="url(#cbar)"/>
<line x1="446.1" y1="213.90" x2="457.6" y2="213.90" stroke="#555" stroke-width="1"/>
<text x="462.80" y="217.43" font-family='"Liberation Sans", sans-serif' font-size="9.8" fill="#333" text-anchor="start" font-weight="normal" >2.0</text>
<line x1="452.9" y1="236.23" x2="457.6" y2="236.23" stroke="#555" stroke-width="1"/>
<text x="462.80" y="239.76" font-family='"Liberation Sans", sans-serif' font-size="9.8" fill="#333" text-anchor="start" font-weight="normal" >0.0</text>
<line x1="452.9" y1="258.57" x2="457.6" y2="258.57" stroke="#555" stroke-width="1"/>
<text x="460.60" y="262.09" font-family='"Liberation Sans", sans-serif' font-size="9.8" fill="#333" text-anchor="start" font-weight="normal" >-2.0</text>
<line x1="446.1" y1="280.90" x2="457.6" y2="280.90" stroke="#555" stroke-width="1"/>
<text x="460.60" y="284.43" font-family='"Liberation Sans", sans-serif' font-size="9.8" fill="#333" text-anchor="start" font-weight="normal" >-4.0</text>
<text x="0" y="0" transform="translate(487.50,247.40) rotate(-90)" font-family='"Liberation Sans", sans-serif' font-size="9.3" fill="#333" text-anchor="middle">Intensity (%)</text>
<rect x="233.3" y="334.3" width="209.39999999999998" height="104.59999999999997" filter="url(#hotM2)"/>
<g clip-path="url(#mclip2)">
<g stroke="#ffe830" stroke-width="1.3" stroke-opacity="0.78"><line x1="310.8" y1="324.2" x2="178.6" y2="455.0"/><line x1="387.0" y1="324.2" x2="254.8" y2="455.0"/><line x1="454.1" y1="324.2" x2="321.9" y2="455.0"/><line x1="519.1" y1="324.2" x2="387.0" y2="455.0"/><line x1="263.8" y1="324.2" x2="131.6" y2="455.0"/><line x1="196.5" y1="324.2" x2="328.6" y2="455.0"/><line x1="292.1" y1="324.2" x2="424.2" y2="455.0"/><line x1="385.8" y1="324.2" x2="517.9" y2="455.0"/><line x1="162.1" y1="324.2" x2="294.3" y2="455.0"/><line x1="235.5" y1="371.2" x2="265.9" y2="393.1"/><line x1="356.1" y1="337.9" x2="407.6" y2="369.2"/><line x1="407.6" y1="388.9" x2="442.7" y2="354.4"/></g>
<circle cx="340.2" cy="405.1" r="67.2" stroke="#ffe428" stroke-width="1.2" stroke-opacity="0.7" fill="none"/>
<line x1="233.3" y1="369.2" x2="442.7" y2="369.2" stroke="#c01000" stroke-width="1.2" stroke-opacity="0.35"/>
<line x1="266.3" y1="334.3" x2="266.3" y2="438.9" stroke="#c01000" stroke-width="1.2" stroke-opacity="0.5"/>
<line x1="408.4" y1="334.3" x2="408.4" y2="438.9" stroke="#c01000" stroke-width="1.2" stroke-opacity="0.5"/>
<path d="M264.3,347.3 L267.6,343.7 L273.1,344.1 L275.9,346.1 L275.5,351.3 L272.1,353.1 L267.1,351.9 L264.3,349.8 Z" fill="#100000" stroke="#300000" stroke-width="0.8" stroke-linejoin="round"/>
<ellipse cx="311.1" cy="342.7" rx="3.6" ry="6" fill="#100000"/>
<ellipse cx="370.4" cy="338.0" rx="3" ry="3.4" fill="#100000"/>
<ellipse cx="389.2" cy="345.5" rx="4" ry="5" fill="#100000"/>
<ellipse cx="394.4" cy="335.3" rx="2.2" ry="1.8" fill="#100000"/>
<ellipse cx="429.0" cy="391.1" rx="3" ry="5" fill="#100000"/>
</g>
<rect x="233.3" y="334.3" width="209.39999999999998" height="104.59999999999997" fill="none" stroke="#222" stroke-width="1.1"/>
<line x1="337.6" y1="390.7" x2="337.6" y2="366" stroke="#4d78c0" stroke-width="2.3"/>
<path d="M334.0,367.5 L337.6,361 L341.20000000000005,367.5 Z" fill="#4d78c0"/>
<rect x="233.3" y="422.2" width="92.30000000000001" height="16.69999999999999" fill="#fff" stroke="#222" stroke-width="1"/>
<text x="279.65" y="434.30" font-family='"Liberation Sans", sans-serif' font-size="10.6" fill="#111" text-anchor="middle" font-weight="bold" >80 kV/cm</text>
<g transform="translate(237.20,361.00) rotate(0)"><text x="0" y="0" font-family='"Liberation Serif", serif' font-size="11.3" font-weight="bold" fill="#ffff50">110</text><line x1="1.13" y1="-8.59" x2="4.52" y2="-8.59" stroke="#ffff50" stroke-width="0.85"/></g>
<g transform="translate(240.80,386.80) rotate(0)"><text x="0" y="0" font-family='"Liberation Serif", serif' font-size="11.3" font-weight="bold" fill="#ffff50">110</text></g>
<text x="326.00" y="483.40" font-family='"Liberation Sans", sans-serif' font-size="15.5" fill="#333" text-anchor="middle" font-weight="normal" >(g)</text>
<rect x="446.5" y="372.1" width="6.800000000000011" height="67.39999999999998" fill="url(#cbar)"/>
<line x1="446.5" y1="372.10" x2="458.0" y2="372.10" stroke="#555" stroke-width="1"/>
<text x="463.20" y="375.63" font-family='"Liberation Sans", sans-serif' font-size="9.8" fill="#333" text-anchor="start" font-weight="normal" >2.0</text>
<line x1="453.3" y1="394.57" x2="458.0" y2="394.57" stroke="#555" stroke-width="1"/>
<text x="463.20" y="398.09" font-family='"Liberation Sans", sans-serif' font-size="9.8" fill="#333" text-anchor="start" font-weight="normal" >0.0</text>
<line x1="453.3" y1="417.03" x2="458.0" y2="417.03" stroke="#555" stroke-width="1"/>
<text x="461.00" y="420.56" font-family='"Liberation Sans", sans-serif' font-size="9.8" fill="#333" text-anchor="start" font-weight="normal" >-2.0</text>
<line x1="446.5" y1="439.50" x2="458.0" y2="439.50" stroke="#555" stroke-width="1"/>
<text x="461.00" y="443.03" font-family='"Liberation Sans", sans-serif' font-size="9.8" fill="#333" text-anchor="start" font-weight="normal" >-4.0</text>
<text x="0" y="0" transform="translate(487.90,405.80) rotate(-90)" font-family='"Liberation Sans", sans-serif' font-size="9.3" fill="#333" text-anchor="middle">Intensity (%)</text>
<rect x="229.3" y="500.2" width="206.3" height="103.09999999999997" filter="url(#hotM3)"/>
<g clip-path="url(#mclip3)">
<g stroke="#ffe830" stroke-width="1.3" stroke-opacity="0.78"><line x1="305.6" y1="490.3" x2="175.4" y2="619.2"/><line x1="338.7" y1="490.3" x2="208.5" y2="619.2"/><line x1="380.7" y1="490.3" x2="250.5" y2="619.2"/><line x1="446.8" y1="490.3" x2="316.6" y2="619.2"/><line x1="510.9" y1="490.3" x2="380.7" y2="619.2"/><line x1="259.3" y1="490.3" x2="129.2" y2="619.2"/><line x1="414.6" y1="490.3" x2="284.4" y2="619.2"/><line x1="193.0" y1="490.3" x2="323.2" y2="619.2"/><line x1="287.2" y1="490.3" x2="417.4" y2="619.2"/><line x1="338.3" y1="490.3" x2="468.4" y2="619.2"/><line x1="239.3" y1="490.3" x2="369.5" y2="619.2"/><line x1="379.5" y1="490.3" x2="509.7" y2="619.2"/><line x1="159.2" y1="490.3" x2="289.4" y2="619.2"/><line x1="231.5" y1="536.6" x2="261.4" y2="558.2"/><line x1="350.3" y1="503.8" x2="401.0" y2="534.6"/><line x1="401.0" y1="554.0" x2="435.6" y2="520.0"/></g>
<circle cx="331.2" cy="648.9" r="86.1" stroke="#ffe428" stroke-width="1.2" stroke-opacity="0.7" fill="none"/>
<line x1="229.3" y1="537.5" x2="435.6" y2="537.5" stroke="#ffe428" stroke-width="1.5" stroke-opacity="0.8"/>
<line x1="261.8" y1="500.2" x2="261.8" y2="603.3" stroke="#c01000" stroke-width="1.2" stroke-opacity="0.5"/>
<line x1="401.9" y1="500.2" x2="401.9" y2="603.3" stroke="#c01000" stroke-width="1.2" stroke-opacity="0.5"/>
<path d="M259.8,513.0 L263.1,509.4 L268.6,509.8 L271.4,511.8 L271.0,517.0 L267.6,518.8 L262.6,517.6 L259.8,515.5 Z" fill="#100000" stroke="#300000" stroke-width="0.8" stroke-linejoin="round"/>
<ellipse cx="305.9" cy="508.5" rx="3.6" ry="6" fill="#100000"/>
<ellipse cx="364.4" cy="503.9" rx="3" ry="3.4" fill="#100000"/>
<ellipse cx="382.9" cy="511.2" rx="4" ry="5" fill="#100000"/>
<ellipse cx="388.0" cy="501.2" rx="2.2" ry="1.8" fill="#100000"/>
<ellipse cx="422.1" cy="556.2" rx="3" ry="5" fill="#100000"/>
</g>
<rect x="229.3" y="500.2" width="206.3" height="103.09999999999997" fill="none" stroke="#222" stroke-width="1.1"/>
<line x1="331.1" y1="554.8" x2="331.1" y2="529.3" stroke="#4d78c0" stroke-width="2.3"/>
<path d="M327.5,530.8 L331.1,524.3 L334.70000000000005,530.8 Z" fill="#4d78c0"/>
<rect x="229.3" y="586.3" width="92.19999999999999" height="17.0" fill="#fff" stroke="#222" stroke-width="1"/>
<text x="275.60" y="598.70" font-family='"Liberation Sans", sans-serif' font-size="10.6" fill="#111" text-anchor="middle" font-weight="bold" >200 kV/cm</text>
<g transform="translate(237.60,551.00) rotate(0)"><text x="0" y="0" font-family='"Liberation Serif", serif' font-size="11.3" font-weight="bold" fill="#ffff50">110</text><line x1="1.13" y1="-8.59" x2="4.52" y2="-8.59" stroke="#ffff50" stroke-width="0.85"/></g>
<text x="326.90" y="642.90" font-family='"Liberation Sans", sans-serif' font-size="15.5" fill="#333" text-anchor="middle" font-weight="normal" >(h)</text>
<rect x="444.2" y="535.5" width="6.5" height="67.29999999999995" fill="url(#cbar)"/>
<line x1="444.2" y1="535.50" x2="455.7" y2="535.50" stroke="#555" stroke-width="1"/>
<text x="460.90" y="539.03" font-family='"Liberation Sans", sans-serif' font-size="9.8" fill="#333" text-anchor="start" font-weight="normal" >2.0</text>
<line x1="450.7" y1="557.93" x2="455.7" y2="557.93" stroke="#555" stroke-width="1"/>
<text x="460.90" y="561.46" font-family='"Liberation Sans", sans-serif' font-size="9.8" fill="#333" text-anchor="start" font-weight="normal" >0.0</text>
<line x1="450.7" y1="580.37" x2="455.7" y2="580.37" stroke="#555" stroke-width="1"/>
<text x="458.70" y="583.89" font-family='"Liberation Sans", sans-serif' font-size="9.8" fill="#333" text-anchor="start" font-weight="normal" >-2.0</text>
<line x1="444.2" y1="602.80" x2="455.7" y2="602.80" stroke="#555" stroke-width="1"/>
<text x="458.70" y="606.33" font-family='"Liberation Sans", sans-serif' font-size="9.8" fill="#333" text-anchor="start" font-weight="normal" >-4.0</text>
<text x="0" y="0" transform="translate(485.30,569.15) rotate(-90)" font-family='"Liberation Sans", sans-serif' font-size="9.3" fill="#333" text-anchor="middle">Intensity (%)</text>
<line x1="627.4" y1="51.5" x2="627.4" y2="125.4" stroke="#1f8ad6" stroke-width="1.5" stroke-dasharray="4.5 2.5"/>
<line x1="640.0" y1="51.5" x2="640.0" y2="125.4" stroke="#1f8ad6" stroke-width="1.5" stroke-dasharray="4.5 2.5"/>
<path d="M530.6,76.4 L535.5,75.2 L540.9,73.3 L547.2,77.5 L554.2,79.2 L557.7,84.5 L562.4,87.6 L568.2,89.2 L573.6,85.2 L579.2,91.5 L584.6,88.5 L588.6,86.9 L593.9,81.0 L600.9,82.2 L606.8,87.6 L612.6,88.7 L617.3,90.4 L620.8,97.4 L624.3,107.9 L627.1,116.1 L630.1,106.7 L633.0,90.4 L636.0,69.3 L638.8,61.2 L640.7,60.0 L644.2,69.3 L651.2,75.2 L658.2,76.4 L665.2,79.9 L672.2,81.0 L676.5,81.5" stroke="#0a0af0" stroke-width="1.4" fill="none" stroke-linejoin="round"/>
<g fill="#0a0af0"><circle cx="530.6" cy="76.4" r="2.1"/><circle cx="531.9" cy="76.1" r="2.1"/><circle cx="533.2" cy="75.8" r="2.1"/><circle cx="534.5" cy="75.4" r="2.1"/><circle cx="535.8" cy="75.1" r="2.1"/><circle cx="537.1" cy="74.6" r="2.1"/><circle cx="538.4" cy="74.2" r="2.1"/><circle cx="539.7" cy="73.7" r="2.1"/><circle cx="541.0" cy="73.4" r="2.1"/><circle cx="542.3" cy="74.2" r="2.1"/><circle cx="543.6" cy="75.1" r="2.1"/><circle cx="544.9" cy="76.0" r="2.1"/><circle cx="546.2" cy="76.8" r="2.1"/><circle cx="547.5" cy="77.6" r="2.1"/><circle cx="548.8" cy="77.9" r="2.1"/><circle cx="550.1" cy="78.2" r="2.1"/><circle cx="551.4" cy="78.5" r="2.1"/><circle cx="552.7" cy="78.8" r="2.1"/><circle cx="554.0" cy="79.2" r="2.1"/><circle cx="555.3" cy="80.9" r="2.1"/><circle cx="556.6" cy="82.8" r="2.1"/><circle cx="557.9" cy="84.6" r="2.1"/><circle cx="559.2" cy="85.5" r="2.1"/><circle cx="560.5" cy="86.3" r="2.1"/><circle cx="561.8" cy="87.2" r="2.1"/><circle cx="563.1" cy="87.8" r="2.1"/><circle cx="564.4" cy="88.2" r="2.1"/><circle cx="565.7" cy="88.5" r="2.1"/><circle cx="567.0" cy="88.9" r="2.1"/><circle cx="568.3" cy="89.1" r="2.1"/><circle cx="569.6" cy="88.2" r="2.1"/><circle cx="570.9" cy="87.2" r="2.1"/><circle cx="572.2" cy="86.2" r="2.1"/><circle cx="573.5" cy="85.3" r="2.1"/><circle cx="574.8" cy="86.5" r="2.1"/><circle cx="576.1" cy="88.0" r="2.1"/><circle cx="577.4" cy="89.5" r="2.1"/><circle cx="578.7" cy="90.9" r="2.1"/><circle cx="580.0" cy="91.1" r="2.1"/><circle cx="581.3" cy="90.3" r="2.1"/><circle cx="582.6" cy="89.6" r="2.1"/><circle cx="583.9" cy="88.9" r="2.1"/><circle cx="585.2" cy="88.3" r="2.1"/><circle cx="586.5" cy="87.7" r="2.1"/><circle cx="587.8" cy="87.2" r="2.1"/><circle cx="589.1" cy="86.3" r="2.1"/><circle cx="590.4" cy="84.9" r="2.1"/><circle cx="591.7" cy="83.4" r="2.1"/><circle cx="593.0" cy="82.0" r="2.1"/><circle cx="594.3" cy="81.1" r="2.1"/><circle cx="595.6" cy="81.3" r="2.1"/><circle cx="596.9" cy="81.5" r="2.1"/><circle cx="598.2" cy="81.7" r="2.1"/><circle cx="599.5" cy="82.0" r="2.1"/><circle cx="600.8" cy="82.2" r="2.1"/><circle cx="602.1" cy="83.3" r="2.1"/><circle cx="603.4" cy="84.5" r="2.1"/><circle cx="604.7" cy="85.7" r="2.1"/><circle cx="606.0" cy="86.9" r="2.1"/><circle cx="607.3" cy="87.7" r="2.1"/><circle cx="608.6" cy="87.9" r="2.1"/><circle cx="609.9" cy="88.2" r="2.1"/><circle cx="611.2" cy="88.4" r="2.1"/><circle cx="612.5" cy="88.7" r="2.1"/><circle cx="613.8" cy="89.1" r="2.1"/><circle cx="615.1" cy="89.6" r="2.1"/><circle cx="616.4" cy="90.1" r="2.1"/><circle cx="617.7" cy="91.2" r="2.1"/><circle cx="619.0" cy="93.8" r="2.1"/><circle cx="620.3" cy="96.4" r="2.1"/><circle cx="621.6" cy="99.8" r="2.1"/><circle cx="622.9" cy="103.7" r="2.1"/><circle cx="624.2" cy="107.6" r="2.1"/><circle cx="625.5" cy="111.4" r="2.1"/><circle cx="626.8" cy="115.2" r="2.1"/><circle cx="628.1" cy="113.0" r="2.1"/><circle cx="629.4" cy="108.9" r="2.1"/><circle cx="630.7" cy="103.3" r="2.1"/><circle cx="632.0" cy="96.0" r="2.1"/><circle cx="633.3" cy="88.3" r="2.1"/><circle cx="634.6" cy="79.1" r="2.1"/><circle cx="635.9" cy="70.0" r="2.1"/><circle cx="637.2" cy="65.8" r="2.1"/><circle cx="638.5" cy="62.1" r="2.1"/><circle cx="639.8" cy="60.6" r="2.1"/><circle cx="641.1" cy="61.1" r="2.1"/><circle cx="642.4" cy="64.5" r="2.1"/><circle cx="643.7" cy="68.0" r="2.1"/><circle cx="645.0" cy="70.0" r="2.1"/><circle cx="646.3" cy="71.1" r="2.1"/><circle cx="647.6" cy="72.2" r="2.1"/><circle cx="648.9" cy="73.3" r="2.1"/><circle cx="650.2" cy="74.4" r="2.1"/><circle cx="651.5" cy="75.3" r="2.1"/><circle cx="652.8" cy="75.5" r="2.1"/><circle cx="654.1" cy="75.7" r="2.1"/><circle cx="655.4" cy="75.9" r="2.1"/><circle cx="656.7" cy="76.1" r="2.1"/><circle cx="658.0" cy="76.4" r="2.1"/><circle cx="659.3" cy="76.9" r="2.1"/><circle cx="660.6" cy="77.6" r="2.1"/><circle cx="661.9" cy="78.2" r="2.1"/><circle cx="663.2" cy="78.9" r="2.1"/><circle cx="664.5" cy="79.5" r="2.1"/><circle cx="665.8" cy="80.0" r="2.1"/><circle cx="667.1" cy="80.2" r="2.1"/><circle cx="668.4" cy="80.4" r="2.1"/><circle cx="669.7" cy="80.6" r="2.1"/><circle cx="671.0" cy="80.8" r="2.1"/><circle cx="672.3" cy="81.0" r="2.1"/><circle cx="673.6" cy="81.2" r="2.1"/><circle cx="674.9" cy="81.3" r="2.1"/><circle cx="676.2" cy="81.5" r="2.1"/></g>
<rect x="530.6" y="20.9" width="145.89999999999998" height="104.5" fill="none" stroke="#333" stroke-width="1"/>
<g stroke="#333" stroke-width="0.8"><line x1="530.6" y1="125.4" x2="530.6" y2="123.4"/><line x1="530.6" y1="20.9" x2="530.6" y2="22.9"/><line x1="554.9" y1="125.4" x2="554.9" y2="123.4"/><line x1="554.9" y1="20.9" x2="554.9" y2="22.9"/><line x1="579.2" y1="125.4" x2="579.2" y2="123.4"/><line x1="579.2" y1="20.9" x2="579.2" y2="22.9"/><line x1="603.5" y1="125.4" x2="603.5" y2="123.4"/><line x1="603.5" y1="20.9" x2="603.5" y2="22.9"/><line x1="627.9" y1="125.4" x2="627.9" y2="123.4"/><line x1="627.9" y1="20.9" x2="627.9" y2="22.9"/><line x1="652.2" y1="125.4" x2="652.2" y2="123.4"/><line x1="652.2" y1="20.9" x2="652.2" y2="22.9"/><line x1="676.5" y1="125.4" x2="676.5" y2="123.4"/><line x1="676.5" y1="20.9" x2="676.5" y2="22.9"/><line x1="530.6" y1="20.9" x2="532.6" y2="20.9"/><line x1="676.5" y1="20.9" x2="674.5" y2="20.9"/><line x1="530.6" y1="31.3" x2="532.6" y2="31.3"/><line x1="676.5" y1="31.3" x2="674.5" y2="31.3"/><line x1="530.6" y1="41.8" x2="532.6" y2="41.8"/><line x1="676.5" y1="41.8" x2="674.5" y2="41.8"/><line x1="530.6" y1="52.2" x2="532.6" y2="52.2"/><line x1="676.5" y1="52.2" x2="674.5" y2="52.2"/><line x1="530.6" y1="62.7" x2="532.6" y2="62.7"/><line x1="676.5" y1="62.7" x2="674.5" y2="62.7"/><line x1="530.6" y1="73.2" x2="532.6" y2="73.2"/><line x1="676.5" y1="73.2" x2="674.5" y2="73.2"/><line x1="530.6" y1="83.6" x2="532.6" y2="83.6"/><line x1="676.5" y1="83.6" x2="674.5" y2="83.6"/><line x1="530.6" y1="94.1" x2="532.6" y2="94.1"/><line x1="676.5" y1="94.1" x2="674.5" y2="94.1"/><line x1="530.6" y1="104.5" x2="532.6" y2="104.5"/><line x1="676.5" y1="104.5" x2="674.5" y2="104.5"/><line x1="530.6" y1="114.9" x2="532.6" y2="114.9"/><line x1="676.5" y1="114.9" x2="674.5" y2="114.9"/><line x1="530.6" y1="125.4" x2="532.6" y2="125.4"/><line x1="676.5" y1="125.4" x2="674.5" y2="125.4"/></g>
<text x="528.40" y="24.50" font-family='"Liberation Sans", sans-serif' font-size="10" fill="#222" text-anchor="end" font-weight="normal" >1.5</text>
<text x="528.40" y="45.40" font-family='"Liberation Sans", sans-serif' font-size="10" fill="#222" text-anchor="end" font-weight="normal" >1</text>
<text x="528.40" y="66.30" font-family='"Liberation Sans", sans-serif' font-size="10" fill="#222" text-anchor="end" font-weight="normal" >0.5</text>
<text x="528.40" y="87.20" font-family='"Liberation Sans", sans-serif' font-size="10" fill="#222" text-anchor="end" font-weight="normal" >0</text>
<text x="528.40" y="108.10" font-family='"Liberation Sans", sans-serif' font-size="10" fill="#222" text-anchor="end" font-weight="normal" >−0.5</text>
<text x="528.40" y="129.00" font-family='"Liberation Sans", sans-serif' font-size="10" fill="#222" text-anchor="end" font-weight="normal" >−1</text>
<text x="530.60" y="136.70" font-family='"Liberation Sans", sans-serif' font-size="10" fill="#222" text-anchor="middle" font-weight="normal" >16</text>
<text x="579.23" y="136.70" font-family='"Liberation Sans", sans-serif' font-size="10" fill="#222" text-anchor="middle" font-weight="normal" >18</text>
<text x="627.87" y="136.70" font-family='"Liberation Sans", sans-serif' font-size="10" fill="#222" text-anchor="middle" font-weight="normal" >20</text>
<text x="676.50" y="136.70" font-family='"Liberation Sans", sans-serif' font-size="10" fill="#222" text-anchor="middle" font-weight="normal" >22</text>
<text x="596.3" y="149.1" font-family='"Liberation Sans", sans-serif' font-size="10.6" fill="#333" text-anchor="middle"><tspan font-family='"Liberation Serif", serif'>θ</tspan> (deg)</text>
<text x="0" y="0" transform="translate(507.6,73.15) rotate(-90)" font-family='"Liberation Sans", sans-serif' font-size="11.2" fill="#333" text-anchor="middle">Intensyty (%)</text>
<text x="675.00" y="31.60" font-family='"Liberation Sans", sans-serif' font-size="10.2" fill="#222" text-anchor="end" font-weight="normal" >0 kV/cm</text>
<text x="674.3" y="42.8" font-family='"Liberation Sans", sans-serif' font-size="10.2" fill="#222" text-anchor="end">Fe K<tspan font-family='"Liberation Serif", serif'>α</tspan></text>
<g transform="translate(626.00,50.30) rotate(0)"><text x="0" y="0" font-family='"Liberation Serif", serif' font-size="11" font-weight="normal" fill="#222">110</text></g>
<text x="604.40" y="167.40" font-family='"Liberation Sans", sans-serif' font-size="15.5" fill="#222" text-anchor="middle" font-weight="normal" >(i)</text>
<line x1="588.2" y1="177.8" x2="588.2" y2="264.5" stroke="#f5a040" stroke-width="1.5" stroke-dasharray="4.5 2.5"/>
<line x1="601.9" y1="177.8" x2="601.9" y2="262" stroke="#f5a040" stroke-width="1.5" stroke-dasharray="4.5 2.5"/>
<line x1="616.7" y1="207.7" x2="616.7" y2="281.7" stroke="#1f8ad6" stroke-width="1.5" stroke-dasharray="4.5 2.5"/>
<line x1="635.7" y1="207.7" x2="635.7" y2="281.7" stroke="#1f8ad6" stroke-width="1.5" stroke-dasharray="4.5 2.5"/>
<path d="M529.9,234.7 L535.5,233.3 L542.7,229.0 L546.9,231.9 L555.5,233.3 L558.3,239.6 L565.4,240.4 L569.7,248.1 L575.4,246.1 L581.1,249.0 L588.2,253.2 L591.0,251.8 L596.7,247.6 L602.4,242.4 L609.6,240.4 L616.7,243.3 L623.8,238.4 L629.5,224.8 L633.8,221.9 L638.0,224.8 L645.1,234.7 L655.1,241.3 L663.6,239.0 L669.3,238.4 L676.5,239.6" stroke="#ee1010" stroke-width="1.4" fill="none" stroke-linejoin="round"/>
<g fill="#ee1010"><circle cx="529.9" cy="234.7" r="2.1"/><circle cx="531.2" cy="234.4" r="2.1"/><circle cx="532.5" cy="234.1" r="2.1"/><circle cx="533.8" cy="233.7" r="2.1"/><circle cx="535.1" cy="233.4" r="2.1"/><circle cx="536.4" cy="232.8" r="2.1"/><circle cx="537.7" cy="232.0" r="2.1"/><circle cx="539.0" cy="231.2" r="2.1"/><circle cx="540.3" cy="230.4" r="2.1"/><circle cx="541.6" cy="229.7" r="2.1"/><circle cx="542.9" cy="229.1" r="2.1"/><circle cx="544.2" cy="230.0" r="2.1"/><circle cx="545.5" cy="230.9" r="2.1"/><circle cx="546.8" cy="231.8" r="2.1"/><circle cx="548.1" cy="232.1" r="2.1"/><circle cx="549.4" cy="232.3" r="2.1"/><circle cx="550.7" cy="232.5" r="2.1"/><circle cx="552.0" cy="232.7" r="2.1"/><circle cx="553.3" cy="232.9" r="2.1"/><circle cx="554.6" cy="233.2" r="2.1"/><circle cx="555.9" cy="234.2" r="2.1"/><circle cx="557.2" cy="237.1" r="2.1"/><circle cx="558.5" cy="239.6" r="2.1"/><circle cx="559.8" cy="239.8" r="2.1"/><circle cx="561.1" cy="239.9" r="2.1"/><circle cx="562.4" cy="240.1" r="2.1"/><circle cx="563.7" cy="240.2" r="2.1"/><circle cx="565.0" cy="240.4" r="2.1"/><circle cx="566.3" cy="242.0" r="2.1"/><circle cx="567.6" cy="244.3" r="2.1"/><circle cx="568.9" cy="246.7" r="2.1"/><circle cx="570.2" cy="247.9" r="2.1"/><circle cx="571.5" cy="247.5" r="2.1"/><circle cx="572.8" cy="247.0" r="2.1"/><circle cx="574.1" cy="246.6" r="2.1"/><circle cx="575.4" cy="246.1" r="2.1"/><circle cx="576.7" cy="246.8" r="2.1"/><circle cx="578.0" cy="247.4" r="2.1"/><circle cx="579.3" cy="248.1" r="2.1"/><circle cx="580.6" cy="248.7" r="2.1"/><circle cx="581.9" cy="249.5" r="2.1"/><circle cx="583.2" cy="250.2" r="2.1"/><circle cx="584.5" cy="251.0" r="2.1"/><circle cx="585.8" cy="251.8" r="2.1"/><circle cx="587.1" cy="252.5" r="2.1"/><circle cx="588.4" cy="253.1" r="2.1"/><circle cx="589.7" cy="252.5" r="2.1"/><circle cx="591.0" cy="251.8" r="2.1"/><circle cx="592.3" cy="250.8" r="2.1"/><circle cx="593.6" cy="249.9" r="2.1"/><circle cx="594.9" cy="248.9" r="2.1"/><circle cx="596.2" cy="248.0" r="2.1"/><circle cx="597.5" cy="246.9" r="2.1"/><circle cx="598.8" cy="245.7" r="2.1"/><circle cx="600.1" cy="244.5" r="2.1"/><circle cx="601.4" cy="243.3" r="2.1"/><circle cx="602.7" cy="242.3" r="2.1"/><circle cx="604.0" cy="242.0" r="2.1"/><circle cx="605.3" cy="241.6" r="2.1"/><circle cx="606.6" cy="241.2" r="2.1"/><circle cx="607.9" cy="240.9" r="2.1"/><circle cx="609.2" cy="240.5" r="2.1"/><circle cx="610.5" cy="240.8" r="2.1"/><circle cx="611.8" cy="241.3" r="2.1"/><circle cx="613.1" cy="241.8" r="2.1"/><circle cx="614.4" cy="242.4" r="2.1"/><circle cx="615.7" cy="242.9" r="2.1"/><circle cx="617.0" cy="243.1" r="2.1"/><circle cx="618.3" cy="242.2" r="2.1"/><circle cx="619.6" cy="241.3" r="2.1"/><circle cx="620.9" cy="240.4" r="2.1"/><circle cx="622.2" cy="239.5" r="2.1"/><circle cx="623.5" cy="238.6" r="2.1"/><circle cx="624.8" cy="236.0" r="2.1"/><circle cx="626.1" cy="232.9" r="2.1"/><circle cx="627.4" cy="229.8" r="2.1"/><circle cx="628.7" cy="226.7" r="2.1"/><circle cx="630.0" cy="224.5" r="2.1"/><circle cx="631.3" cy="223.6" r="2.1"/><circle cx="632.6" cy="222.7" r="2.1"/><circle cx="633.9" cy="222.0" r="2.1"/><circle cx="635.2" cy="222.9" r="2.1"/><circle cx="636.5" cy="223.8" r="2.1"/><circle cx="637.8" cy="224.7" r="2.1"/><circle cx="639.1" cy="226.3" r="2.1"/><circle cx="640.4" cy="228.1" r="2.1"/><circle cx="641.7" cy="230.0" r="2.1"/><circle cx="643.0" cy="231.8" r="2.1"/><circle cx="644.3" cy="233.6" r="2.1"/><circle cx="645.6" cy="235.0" r="2.1"/><circle cx="646.9" cy="235.9" r="2.1"/><circle cx="648.2" cy="236.7" r="2.1"/><circle cx="649.5" cy="237.6" r="2.1"/><circle cx="650.8" cy="238.5" r="2.1"/><circle cx="652.1" cy="239.3" r="2.1"/><circle cx="653.4" cy="240.2" r="2.1"/><circle cx="654.7" cy="241.0" r="2.1"/><circle cx="656.0" cy="241.1" r="2.1"/><circle cx="657.3" cy="240.7" r="2.1"/><circle cx="658.6" cy="240.4" r="2.1"/><circle cx="659.9" cy="240.0" r="2.1"/><circle cx="661.2" cy="239.6" r="2.1"/><circle cx="662.5" cy="239.3" r="2.1"/><circle cx="663.8" cy="239.0" r="2.1"/><circle cx="665.1" cy="238.8" r="2.1"/><circle cx="666.4" cy="238.7" r="2.1"/><circle cx="667.7" cy="238.6" r="2.1"/><circle cx="669.0" cy="238.4" r="2.1"/><circle cx="670.3" cy="238.6" r="2.1"/><circle cx="671.6" cy="238.8" r="2.1"/><circle cx="672.9" cy="239.0" r="2.1"/><circle cx="674.2" cy="239.2" r="2.1"/><circle cx="675.5" cy="239.4" r="2.1"/></g>
<rect x="529.9" y="177.8" width="146.60000000000002" height="103.89999999999998" fill="none" stroke="#333" stroke-width="1"/>
<g stroke="#333" stroke-width="0.8"><line x1="529.9" y1="281.7" x2="529.9" y2="279.7"/><line x1="529.9" y1="177.8" x2="529.9" y2="179.8"/><line x1="554.3" y1="281.7" x2="554.3" y2="279.7"/><line x1="554.3" y1="177.8" x2="554.3" y2="179.8"/><line x1="578.8" y1="281.7" x2="578.8" y2="279.7"/><line x1="578.8" y1="177.8" x2="578.8" y2="179.8"/><line x1="603.2" y1="281.7" x2="603.2" y2="279.7"/><line x1="603.2" y1="177.8" x2="603.2" y2="179.8"/><line x1="627.6" y1="281.7" x2="627.6" y2="279.7"/><line x1="627.6" y1="177.8" x2="627.6" y2="179.8"/><line x1="652.1" y1="281.7" x2="652.1" y2="279.7"/><line x1="652.1" y1="177.8" x2="652.1" y2="179.8"/><line x1="676.5" y1="281.7" x2="676.5" y2="279.7"/><line x1="676.5" y1="177.8" x2="676.5" y2="179.8"/><line x1="529.9" y1="177.8" x2="531.9" y2="177.8"/><line x1="676.5" y1="177.8" x2="674.5" y2="177.8"/><line x1="529.9" y1="188.2" x2="531.9" y2="188.2"/><line x1="676.5" y1="188.2" x2="674.5" y2="188.2"/><line x1="529.9" y1="198.6" x2="531.9" y2="198.6"/><line x1="676.5" y1="198.6" x2="674.5" y2="198.6"/><line x1="529.9" y1="209.0" x2="531.9" y2="209.0"/><line x1="676.5" y1="209.0" x2="674.5" y2="209.0"/><line x1="529.9" y1="219.4" x2="531.9" y2="219.4"/><line x1="676.5" y1="219.4" x2="674.5" y2="219.4"/><line x1="529.9" y1="229.8" x2="531.9" y2="229.8"/><line x1="676.5" y1="229.8" x2="674.5" y2="229.8"/><line x1="529.9" y1="240.1" x2="531.9" y2="240.1"/><line x1="676.5" y1="240.1" x2="674.5" y2="240.1"/><line x1="529.9" y1="250.5" x2="531.9" y2="250.5"/><line x1="676.5" y1="250.5" x2="674.5" y2="250.5"/><line x1="529.9" y1="260.9" x2="531.9" y2="260.9"/><line x1="676.5" y1="260.9" x2="674.5" y2="260.9"/><line x1="529.9" y1="271.3" x2="531.9" y2="271.3"/><line x1="676.5" y1="271.3" x2="674.5" y2="271.3"/><line x1="529.9" y1="281.7" x2="531.9" y2="281.7"/><line x1="676.5" y1="281.7" x2="674.5" y2="281.7"/></g>
<text x="527.70" y="181.40" font-family='"Liberation Sans", sans-serif' font-size="10" fill="#222" text-anchor="end" font-weight="normal" >1.5</text>
<text x="527.70" y="202.18" font-family='"Liberation Sans", sans-serif' font-size="10" fill="#222" text-anchor="end" font-weight="normal" >1</text>
<text x="527.70" y="222.96" font-family='"Liberation Sans", sans-serif' font-size="10" fill="#222" text-anchor="end" font-weight="normal" >0.5</text>
<text x="527.70" y="243.74" font-family='"Liberation Sans", sans-serif' font-size="10" fill="#222" text-anchor="end" font-weight="normal" >0</text>
<text x="527.70" y="264.52" font-family='"Liberation Sans", sans-serif' font-size="10" fill="#222" text-anchor="end" font-weight="normal" >−0.5</text>
<text x="527.70" y="285.30" font-family='"Liberation Sans", sans-serif' font-size="10" fill="#222" text-anchor="end" font-weight="normal" >−1</text>
<text x="529.90" y="293.00" font-family='"Liberation Sans", sans-serif' font-size="10" fill="#222" text-anchor="middle" font-weight="normal" >16</text>
<text x="578.77" y="293.00" font-family='"Liberation Sans", sans-serif' font-size="10" fill="#222" text-anchor="middle" font-weight="normal" >18</text>
<text x="627.63" y="293.00" font-family='"Liberation Sans", sans-serif' font-size="10" fill="#222" text-anchor="middle" font-weight="normal" >20</text>
<text x="676.50" y="293.00" font-family='"Liberation Sans", sans-serif' font-size="10" fill="#222" text-anchor="middle" font-weight="normal" >22</text>
<text x="596.3" y="305.6" font-family='"Liberation Sans", sans-serif' font-size="10.6" fill="#333" text-anchor="middle"><tspan font-family='"Liberation Serif", serif'>θ</tspan> (deg)</text>
<text x="0" y="0" transform="translate(506.9,229.75) rotate(-90)" font-family='"Liberation Sans", sans-serif' font-size="11.2" fill="#333" text-anchor="middle">Intensyty (%)</text>
<text x="675.00" y="189.20" font-family='"Liberation Sans", sans-serif' font-size="10.2" fill="#222" text-anchor="end" font-weight="normal" >50 kV/cm</text>
<text x="674.3" y="201.8" font-family='"Liberation Sans", sans-serif' font-size="10.2" fill="#222" text-anchor="end">Fe K<tspan font-family='"Liberation Serif", serif'>α</tspan></text>
<g transform="translate(611.00,203.40) rotate(0)"><text x="0" y="0" font-family='"Liberation Serif", serif' font-size="11" font-weight="normal" fill="#222">110</text></g>
<g transform="translate(586.80,278.90) rotate(0)"><text x="0" y="0" font-family='"Liberation Serif", serif' font-size="11" font-weight="normal" fill="#222">110</text><line x1="1.10" y1="-8.36" x2="4.40" y2="-8.36" stroke="#222" stroke-width="0.82"/><line x1="6.60" y1="-8.36" x2="9.90" y2="-8.36" stroke="#222" stroke-width="0.82"/></g>
<text x="604.60" y="324.80" font-family='"Liberation Sans", sans-serif' font-size="15.5" fill="#222" text-anchor="middle" font-weight="normal" >(j)</text>
<line x1="587.6" y1="334.4" x2="587.6" y2="416" stroke="#f5a040" stroke-width="1.5" stroke-dasharray="4.5 2.5"/>
<line x1="605.9" y1="334.4" x2="605.9" y2="416" stroke="#f5a040" stroke-width="1.5" stroke-dasharray="4.5 2.5"/>
<line x1="622.4" y1="363.4" x2="622.4" y2="438.3" stroke="#1f8ad6" stroke-width="1.5" stroke-dasharray="4.5 2.5"/>
<line x1="632.0" y1="363.4" x2="632.0" y2="438.3" stroke="#1f8ad6" stroke-width="1.5" stroke-dasharray="4.5 2.5"/>
<path d="M529.3,391.9 L534.1,394.2 L539.8,391.0 L545.5,389.0 L551.2,390.5 L555.5,389.9 L561.2,399.0 L566.9,402.4 L572.6,405.3 L578.2,407.6 L583.9,410.4 L587.6,415.5 L591.1,410.4 L596.7,400.4 L602.4,390.5 L606.7,388.2 L611.0,392.7 L615.3,394.7 L619.5,391.9 L625.2,392.7 L629.5,386.2 L635.2,385.3 L640.9,388.2 L646.6,392.7 L652.3,397.6 L658.0,396.7 L663.6,397.6 L667.9,396.7 L672.2,391.9 L676.5,393.3" stroke="#ee10ee" stroke-width="1.4" fill="none" stroke-linejoin="round"/>
<g fill="#ee10ee"><circle cx="529.3" cy="391.9" r="2.1"/><circle cx="530.6" cy="392.5" r="2.1"/><circle cx="531.9" cy="393.1" r="2.1"/><circle cx="533.2" cy="393.8" r="2.1"/><circle cx="534.5" cy="394.0" r="2.1"/><circle cx="535.8" cy="393.2" r="2.1"/><circle cx="537.1" cy="392.5" r="2.1"/><circle cx="538.4" cy="391.8" r="2.1"/><circle cx="539.7" cy="391.1" r="2.1"/><circle cx="541.0" cy="390.6" r="2.1"/><circle cx="542.3" cy="390.1" r="2.1"/><circle cx="543.6" cy="389.7" r="2.1"/><circle cx="544.9" cy="389.2" r="2.1"/><circle cx="546.2" cy="389.2" r="2.1"/><circle cx="547.5" cy="389.5" r="2.1"/><circle cx="548.8" cy="389.9" r="2.1"/><circle cx="550.1" cy="390.2" r="2.1"/><circle cx="551.4" cy="390.5" r="2.1"/><circle cx="552.7" cy="390.3" r="2.1"/><circle cx="554.0" cy="390.1" r="2.1"/><circle cx="555.3" cy="389.9" r="2.1"/><circle cx="556.6" cy="391.7" r="2.1"/><circle cx="557.9" cy="393.7" r="2.1"/><circle cx="559.2" cy="395.8" r="2.1"/><circle cx="560.5" cy="397.9" r="2.1"/><circle cx="561.8" cy="399.4" r="2.1"/><circle cx="563.1" cy="400.1" r="2.1"/><circle cx="564.4" cy="400.9" r="2.1"/><circle cx="565.7" cy="401.7" r="2.1"/><circle cx="567.0" cy="402.5" r="2.1"/><circle cx="568.3" cy="403.1" r="2.1"/><circle cx="569.6" cy="403.8" r="2.1"/><circle cx="570.9" cy="404.4" r="2.1"/><circle cx="572.2" cy="405.1" r="2.1"/><circle cx="573.5" cy="405.7" r="2.1"/><circle cx="574.8" cy="406.2" r="2.1"/><circle cx="576.1" cy="406.7" r="2.1"/><circle cx="577.4" cy="407.3" r="2.1"/><circle cx="578.7" cy="407.8" r="2.1"/><circle cx="580.0" cy="408.5" r="2.1"/><circle cx="581.3" cy="409.1" r="2.1"/><circle cx="582.6" cy="409.8" r="2.1"/><circle cx="583.9" cy="410.4" r="2.1"/><circle cx="585.2" cy="412.2" r="2.1"/><circle cx="586.5" cy="414.0" r="2.1"/><circle cx="587.8" cy="415.2" r="2.1"/><circle cx="589.1" cy="413.3" r="2.1"/><circle cx="590.4" cy="411.4" r="2.1"/><circle cx="591.7" cy="409.3" r="2.1"/><circle cx="593.0" cy="407.0" r="2.1"/><circle cx="594.3" cy="404.7" r="2.1"/><circle cx="595.6" cy="402.4" r="2.1"/><circle cx="596.9" cy="400.1" r="2.1"/><circle cx="598.2" cy="397.8" r="2.1"/><circle cx="599.5" cy="395.5" r="2.1"/><circle cx="600.8" cy="393.3" r="2.1"/><circle cx="602.1" cy="391.0" r="2.1"/><circle cx="603.4" cy="390.0" r="2.1"/><circle cx="604.7" cy="389.3" r="2.1"/><circle cx="606.0" cy="388.6" r="2.1"/><circle cx="607.3" cy="388.8" r="2.1"/><circle cx="608.6" cy="390.2" r="2.1"/><circle cx="609.9" cy="391.5" r="2.1"/><circle cx="611.2" cy="392.8" r="2.1"/><circle cx="612.5" cy="393.4" r="2.1"/><circle cx="613.8" cy="394.0" r="2.1"/><circle cx="615.1" cy="394.6" r="2.1"/><circle cx="616.4" cy="394.0" r="2.1"/><circle cx="617.7" cy="393.1" r="2.1"/><circle cx="619.0" cy="392.2" r="2.1"/><circle cx="620.3" cy="392.0" r="2.1"/><circle cx="621.6" cy="392.2" r="2.1"/><circle cx="622.9" cy="392.4" r="2.1"/><circle cx="624.2" cy="392.6" r="2.1"/><circle cx="625.5" cy="392.2" r="2.1"/><circle cx="626.8" cy="390.3" r="2.1"/><circle cx="628.1" cy="388.3" r="2.1"/><circle cx="629.4" cy="386.4" r="2.1"/><circle cx="630.7" cy="386.0" r="2.1"/><circle cx="632.0" cy="385.8" r="2.1"/><circle cx="633.3" cy="385.6" r="2.1"/><circle cx="634.6" cy="385.4" r="2.1"/><circle cx="635.9" cy="385.7" r="2.1"/><circle cx="637.2" cy="386.3" r="2.1"/><circle cx="638.5" cy="387.0" r="2.1"/><circle cx="639.8" cy="387.6" r="2.1"/><circle cx="641.1" cy="388.4" r="2.1"/><circle cx="642.4" cy="389.4" r="2.1"/><circle cx="643.7" cy="390.4" r="2.1"/><circle cx="645.0" cy="391.4" r="2.1"/><circle cx="646.3" cy="392.5" r="2.1"/><circle cx="647.6" cy="393.6" r="2.1"/><circle cx="648.9" cy="394.7" r="2.1"/><circle cx="650.2" cy="395.8" r="2.1"/><circle cx="651.5" cy="396.9" r="2.1"/><circle cx="652.8" cy="397.5" r="2.1"/><circle cx="654.1" cy="397.3" r="2.1"/><circle cx="655.4" cy="397.1" r="2.1"/><circle cx="656.7" cy="396.9" r="2.1"/><circle cx="658.0" cy="396.7" r="2.1"/><circle cx="659.3" cy="396.9" r="2.1"/><circle cx="660.6" cy="397.1" r="2.1"/><circle cx="661.9" cy="397.3" r="2.1"/><circle cx="663.2" cy="397.5" r="2.1"/><circle cx="664.5" cy="397.4" r="2.1"/><circle cx="665.8" cy="397.1" r="2.1"/><circle cx="667.1" cy="396.9" r="2.1"/><circle cx="668.4" cy="396.1" r="2.1"/><circle cx="669.7" cy="394.7" r="2.1"/><circle cx="671.0" cy="393.2" r="2.1"/><circle cx="672.3" cy="391.9" r="2.1"/><circle cx="673.6" cy="392.4" r="2.1"/><circle cx="674.9" cy="392.8" r="2.1"/><circle cx="676.2" cy="393.2" r="2.1"/></g>
<rect x="529.3" y="334.4" width="146.60000000000002" height="103.90000000000003" fill="none" stroke="#333" stroke-width="1"/>
<g stroke="#333" stroke-width="0.8"><line x1="529.3" y1="438.3" x2="529.3" y2="436.3"/><line x1="529.3" y1="334.4" x2="529.3" y2="336.4"/><line x1="553.7" y1="438.3" x2="553.7" y2="436.3"/><line x1="553.7" y1="334.4" x2="553.7" y2="336.4"/><line x1="578.2" y1="438.3" x2="578.2" y2="436.3"/><line x1="578.2" y1="334.4" x2="578.2" y2="336.4"/><line x1="602.6" y1="438.3" x2="602.6" y2="436.3"/><line x1="602.6" y1="334.4" x2="602.6" y2="336.4"/><line x1="627.0" y1="438.3" x2="627.0" y2="436.3"/><line x1="627.0" y1="334.4" x2="627.0" y2="336.4"/><line x1="651.5" y1="438.3" x2="651.5" y2="436.3"/><line x1="651.5" y1="334.4" x2="651.5" y2="336.4"/><line x1="675.9" y1="438.3" x2="675.9" y2="436.3"/><line x1="675.9" y1="334.4" x2="675.9" y2="336.4"/><line x1="529.3" y1="334.4" x2="531.3" y2="334.4"/><line x1="675.9" y1="334.4" x2="673.9" y2="334.4"/><line x1="529.3" y1="344.8" x2="531.3" y2="344.8"/><line x1="675.9" y1="344.8" x2="673.9" y2="344.8"/><line x1="529.3" y1="355.2" x2="531.3" y2="355.2"/><line x1="675.9" y1="355.2" x2="673.9" y2="355.2"/><line x1="529.3" y1="365.6" x2="531.3" y2="365.6"/><line x1="675.9" y1="365.6" x2="673.9" y2="365.6"/><line x1="529.3" y1="376.0" x2="531.3" y2="376.0"/><line x1="675.9" y1="376.0" x2="673.9" y2="376.0"/><line x1="529.3" y1="386.4" x2="531.3" y2="386.4"/><line x1="675.9" y1="386.4" x2="673.9" y2="386.4"/><line x1="529.3" y1="396.7" x2="531.3" y2="396.7"/><line x1="675.9" y1="396.7" x2="673.9" y2="396.7"/><line x1="529.3" y1="407.1" x2="531.3" y2="407.1"/><line x1="675.9" y1="407.1" x2="673.9" y2="407.1"/><line x1="529.3" y1="417.5" x2="531.3" y2="417.5"/><line x1="675.9" y1="417.5" x2="673.9" y2="417.5"/><line x1="529.3" y1="427.9" x2="531.3" y2="427.9"/><line x1="675.9" y1="427.9" x2="673.9" y2="427.9"/><line x1="529.3" y1="438.3" x2="531.3" y2="438.3"/><line x1="675.9" y1="438.3" x2="673.9" y2="438.3"/></g>
<text x="527.10" y="338.00" font-family='"Liberation Sans", sans-serif' font-size="10" fill="#222" text-anchor="end" font-weight="normal" >1.5</text>
<text x="527.10" y="358.78" font-family='"Liberation Sans", sans-serif' font-size="10" fill="#222" text-anchor="end" font-weight="normal" >1</text>
<text x="527.10" y="379.56" font-family='"Liberation Sans", sans-serif' font-size="10" fill="#222" text-anchor="end" font-weight="normal" >0.5</text>
<text x="527.10" y="400.34" font-family='"Liberation Sans", sans-serif' font-size="10" fill="#222" text-anchor="end" font-weight="normal" >0</text>
<text x="527.10" y="421.12" font-family='"Liberation Sans", sans-serif' font-size="10" fill="#222" text-anchor="end" font-weight="normal" >−0.5</text>
<text x="527.10" y="441.90" font-family='"Liberation Sans", sans-serif' font-size="10" fill="#222" text-anchor="end" font-weight="normal" >−1</text>
<text x="529.30" y="449.60" font-family='"Liberation Sans", sans-serif' font-size="10" fill="#222" text-anchor="middle" font-weight="normal" >16</text>
<text x="578.17" y="449.60" font-family='"Liberation Sans", sans-serif' font-size="10" fill="#222" text-anchor="middle" font-weight="normal" >18</text>
<text x="627.03" y="449.60" font-family='"Liberation Sans", sans-serif' font-size="10" fill="#222" text-anchor="middle" font-weight="normal" >20</text>
<text x="675.90" y="449.60" font-family='"Liberation Sans", sans-serif' font-size="10" fill="#222" text-anchor="middle" font-weight="normal" >22</text>
<text x="595.6" y="461.4" font-family='"Liberation Sans", sans-serif' font-size="10.6" fill="#333" text-anchor="middle"><tspan font-family='"Liberation Serif", serif'>θ</tspan> (deg)</text>
<text x="0" y="0" transform="translate(506.29999999999995,386.35) rotate(-90)" font-family='"Liberation Sans", sans-serif' font-size="11.2" fill="#333" text-anchor="middle">Intensyty (%)</text>
<text x="674.40" y="346.30" font-family='"Liberation Sans", sans-serif' font-size="10.2" fill="#222" text-anchor="end" font-weight="normal" >80 kV/cm</text>
<text x="673.6999999999999" y="359" font-family='"Liberation Sans", sans-serif' font-size="10.2" fill="#222" text-anchor="end">Fe K<tspan font-family='"Liberation Serif", serif'>α</tspan></text>
<g transform="translate(621.50,359.00) rotate(0)"><text x="0" y="0" font-family='"Liberation Serif", serif' font-size="11" font-weight="normal" fill="#222">110</text></g>
<g transform="translate(585.40,432.00) rotate(0)"><text x="0" y="0" font-family='"Liberation Serif", serif' font-size="11" font-weight="normal" fill="#222">110</text><line x1="1.10" y1="-8.36" x2="4.40" y2="-8.36" stroke="#222" stroke-width="0.82"/><line x1="6.60" y1="-8.36" x2="9.90" y2="-8.36" stroke="#222" stroke-width="0.82"/></g>
<text x="607.20" y="482.80" font-family='"Liberation Sans", sans-serif' font-size="15.5" fill="#222" text-anchor="middle" font-weight="normal" >(k)</text>
<line x1="584.5" y1="498.5" x2="584.5" y2="580.5" stroke="#f5a040" stroke-width="1.5" stroke-dasharray="4.5 2.5"/>
<line x1="597.3" y1="498.5" x2="597.3" y2="580.5" stroke="#f5a040" stroke-width="1.5" stroke-dasharray="4.5 2.5"/>
<path d="M531.8,560.5 L537.0,562.0 L542.7,559.1 L548.4,555.4 L552.6,557.7 L558.3,562.0 L564.0,564.8 L569.7,569.1 L575.4,571.4 L581.1,577.1 L585.4,581.0 L589.1,579.9 L591.9,571.9 L593.9,557.7 L595.3,533.9 L597.6,518.2 L599.6,524.4 L602.4,537.8 L606.7,547.7 L612.4,554.3 L620.9,556.3 L629.5,559.1 L638.0,561.1 L646.6,563.4 L652.3,567.7 L658.0,571.9 L663.6,566.3 L669.3,559.1 L677.9,554.9" stroke="#f58a50" stroke-width="1.4" fill="none" stroke-linejoin="round"/>
<g fill="#f58a50"><circle cx="531.8" cy="560.5" r="2.1"/><circle cx="533.1" cy="560.9" r="2.1"/><circle cx="534.4" cy="561.2" r="2.1"/><circle cx="535.7" cy="561.6" r="2.1"/><circle cx="537.0" cy="562.0" r="2.1"/><circle cx="538.3" cy="561.3" r="2.1"/><circle cx="539.6" cy="560.7" r="2.1"/><circle cx="540.9" cy="560.0" r="2.1"/><circle cx="542.2" cy="559.4" r="2.1"/><circle cx="543.5" cy="558.6" r="2.1"/><circle cx="544.8" cy="557.7" r="2.1"/><circle cx="546.1" cy="556.9" r="2.1"/><circle cx="547.4" cy="556.0" r="2.1"/><circle cx="548.7" cy="555.6" r="2.1"/><circle cx="550.0" cy="556.3" r="2.1"/><circle cx="551.3" cy="557.0" r="2.1"/><circle cx="552.6" cy="557.7" r="2.1"/><circle cx="553.9" cy="558.7" r="2.1"/><circle cx="555.2" cy="559.7" r="2.1"/><circle cx="556.5" cy="560.6" r="2.1"/><circle cx="557.8" cy="561.6" r="2.1"/><circle cx="559.1" cy="562.4" r="2.1"/><circle cx="560.4" cy="563.0" r="2.1"/><circle cx="561.7" cy="563.7" r="2.1"/><circle cx="563.0" cy="564.3" r="2.1"/><circle cx="564.3" cy="565.0" r="2.1"/><circle cx="565.6" cy="566.0" r="2.1"/><circle cx="566.9" cy="567.0" r="2.1"/><circle cx="568.2" cy="568.0" r="2.1"/><circle cx="569.5" cy="568.9" r="2.1"/><circle cx="570.8" cy="569.5" r="2.1"/><circle cx="572.1" cy="570.1" r="2.1"/><circle cx="573.4" cy="570.6" r="2.1"/><circle cx="574.7" cy="571.1" r="2.1"/><circle cx="576.0" cy="572.0" r="2.1"/><circle cx="577.3" cy="573.3" r="2.1"/><circle cx="578.6" cy="574.6" r="2.1"/><circle cx="579.9" cy="575.9" r="2.1"/><circle cx="581.2" cy="577.2" r="2.1"/><circle cx="582.5" cy="578.4" r="2.1"/><circle cx="583.8" cy="579.5" r="2.1"/><circle cx="585.1" cy="580.7" r="2.1"/><circle cx="586.4" cy="580.7" r="2.1"/><circle cx="587.7" cy="580.3" r="2.1"/><circle cx="589.0" cy="579.9" r="2.1"/><circle cx="590.3" cy="576.5" r="2.1"/><circle cx="591.6" cy="572.8" r="2.1"/><circle cx="592.9" cy="564.8" r="2.1"/><circle cx="594.2" cy="552.6" r="2.1"/><circle cx="595.5" cy="532.5" r="2.1"/><circle cx="596.8" cy="523.7" r="2.1"/><circle cx="598.1" cy="519.7" r="2.1"/><circle cx="599.4" cy="523.8" r="2.1"/><circle cx="600.7" cy="529.7" r="2.1"/><circle cx="602.0" cy="535.9" r="2.1"/><circle cx="603.3" cy="539.9" r="2.1"/><circle cx="604.6" cy="542.9" r="2.1"/><circle cx="605.9" cy="545.9" r="2.1"/><circle cx="607.2" cy="548.3" r="2.1"/><circle cx="608.5" cy="549.8" r="2.1"/><circle cx="609.8" cy="551.3" r="2.1"/><circle cx="611.1" cy="552.8" r="2.1"/><circle cx="612.4" cy="554.3" r="2.1"/><circle cx="613.7" cy="554.6" r="2.1"/><circle cx="615.0" cy="554.9" r="2.1"/><circle cx="616.3" cy="555.2" r="2.1"/><circle cx="617.6" cy="555.5" r="2.1"/><circle cx="618.9" cy="555.8" r="2.1"/><circle cx="620.2" cy="556.1" r="2.1"/><circle cx="621.5" cy="556.5" r="2.1"/><circle cx="622.8" cy="556.9" r="2.1"/><circle cx="624.1" cy="557.3" r="2.1"/><circle cx="625.4" cy="557.8" r="2.1"/><circle cx="626.7" cy="558.2" r="2.1"/><circle cx="628.0" cy="558.6" r="2.1"/><circle cx="629.3" cy="559.0" r="2.1"/><circle cx="630.6" cy="559.4" r="2.1"/><circle cx="631.9" cy="559.7" r="2.1"/><circle cx="633.2" cy="560.0" r="2.1"/><circle cx="634.5" cy="560.3" r="2.1"/><circle cx="635.8" cy="560.6" r="2.1"/><circle cx="637.1" cy="560.9" r="2.1"/><circle cx="638.4" cy="561.2" r="2.1"/><circle cx="639.7" cy="561.6" r="2.1"/><circle cx="641.0" cy="561.9" r="2.1"/><circle cx="642.3" cy="562.2" r="2.1"/><circle cx="643.6" cy="562.6" r="2.1"/><circle cx="644.9" cy="562.9" r="2.1"/><circle cx="646.2" cy="563.3" r="2.1"/><circle cx="647.5" cy="564.1" r="2.1"/><circle cx="648.8" cy="565.1" r="2.1"/><circle cx="650.1" cy="566.0" r="2.1"/><circle cx="651.4" cy="567.0" r="2.1"/><circle cx="652.7" cy="568.0" r="2.1"/><circle cx="654.0" cy="569.0" r="2.1"/><circle cx="655.3" cy="569.9" r="2.1"/><circle cx="656.6" cy="570.9" r="2.1"/><circle cx="657.9" cy="571.8" r="2.1"/><circle cx="659.2" cy="570.7" r="2.1"/><circle cx="660.5" cy="569.4" r="2.1"/><circle cx="661.8" cy="568.1" r="2.1"/><circle cx="663.1" cy="566.8" r="2.1"/><circle cx="664.4" cy="565.3" r="2.1"/><circle cx="665.7" cy="563.6" r="2.1"/><circle cx="667.0" cy="562.0" r="2.1"/><circle cx="668.3" cy="560.4" r="2.1"/><circle cx="669.6" cy="559.0" r="2.1"/><circle cx="670.9" cy="558.3" r="2.1"/><circle cx="672.2" cy="557.7" r="2.1"/><circle cx="673.5" cy="557.0" r="2.1"/><circle cx="674.8" cy="556.4" r="2.1"/><circle cx="676.1" cy="555.8" r="2.1"/><circle cx="677.4" cy="555.1" r="2.1"/></g>
<rect x="531.8" y="498.5" width="146.60000000000002" height="103.89999999999998" fill="none" stroke="#333" stroke-width="1"/>
<g stroke="#333" stroke-width="0.8"><line x1="531.8" y1="602.4" x2="531.8" y2="600.4"/><line x1="531.8" y1="498.5" x2="531.8" y2="500.5"/><line x1="556.2" y1="602.4" x2="556.2" y2="600.4"/><line x1="556.2" y1="498.5" x2="556.2" y2="500.5"/><line x1="580.7" y1="602.4" x2="580.7" y2="600.4"/><line x1="580.7" y1="498.5" x2="580.7" y2="500.5"/><line x1="605.1" y1="602.4" x2="605.1" y2="600.4"/><line x1="605.1" y1="498.5" x2="605.1" y2="500.5"/><line x1="629.5" y1="602.4" x2="629.5" y2="600.4"/><line x1="629.5" y1="498.5" x2="629.5" y2="500.5"/><line x1="654.0" y1="602.4" x2="654.0" y2="600.4"/><line x1="654.0" y1="498.5" x2="654.0" y2="500.5"/><line x1="678.4" y1="602.4" x2="678.4" y2="600.4"/><line x1="678.4" y1="498.5" x2="678.4" y2="500.5"/><line x1="531.8" y1="498.5" x2="533.8" y2="498.5"/><line x1="678.4" y1="498.5" x2="676.4" y2="498.5"/><line x1="531.8" y1="508.9" x2="533.8" y2="508.9"/><line x1="678.4" y1="508.9" x2="676.4" y2="508.9"/><line x1="531.8" y1="519.3" x2="533.8" y2="519.3"/><line x1="678.4" y1="519.3" x2="676.4" y2="519.3"/><line x1="531.8" y1="529.7" x2="533.8" y2="529.7"/><line x1="678.4" y1="529.7" x2="676.4" y2="529.7"/><line x1="531.8" y1="540.1" x2="533.8" y2="540.1"/><line x1="678.4" y1="540.1" x2="676.4" y2="540.1"/><line x1="531.8" y1="550.5" x2="533.8" y2="550.5"/><line x1="678.4" y1="550.5" x2="676.4" y2="550.5"/><line x1="531.8" y1="560.8" x2="533.8" y2="560.8"/><line x1="678.4" y1="560.8" x2="676.4" y2="560.8"/><line x1="531.8" y1="571.2" x2="533.8" y2="571.2"/><line x1="678.4" y1="571.2" x2="676.4" y2="571.2"/><line x1="531.8" y1="581.6" x2="533.8" y2="581.6"/><line x1="678.4" y1="581.6" x2="676.4" y2="581.6"/><line x1="531.8" y1="592.0" x2="533.8" y2="592.0"/><line x1="678.4" y1="592.0" x2="676.4" y2="592.0"/><line x1="531.8" y1="602.4" x2="533.8" y2="602.4"/><line x1="678.4" y1="602.4" x2="676.4" y2="602.4"/></g>
<text x="529.60" y="502.10" font-family='"Liberation Sans", sans-serif' font-size="10" fill="#222" text-anchor="end" font-weight="normal" >1.5</text>
<text x="529.60" y="522.88" font-family='"Liberation Sans", sans-serif' font-size="10" fill="#222" text-anchor="end" font-weight="normal" >1</text>
<text x="529.60" y="543.66" font-family='"Liberation Sans", sans-serif' font-size="10" fill="#222" text-anchor="end" font-weight="normal" >0.5</text>
<text x="529.60" y="564.44" font-family='"Liberation Sans", sans-serif' font-size="10" fill="#222" text-anchor="end" font-weight="normal" >0</text>
<text x="529.60" y="585.22" font-family='"Liberation Sans", sans-serif' font-size="10" fill="#222" text-anchor="end" font-weight="normal" >−0.5</text>
<text x="529.60" y="606.00" font-family='"Liberation Sans", sans-serif' font-size="10" fill="#222" text-anchor="end" font-weight="normal" >−1</text>
<text x="531.80" y="613.70" font-family='"Liberation Sans", sans-serif' font-size="10" fill="#222" text-anchor="middle" font-weight="normal" >16</text>
<text x="580.67" y="613.70" font-family='"Liberation Sans", sans-serif' font-size="10" fill="#222" text-anchor="middle" font-weight="normal" >18</text>
<text x="629.53" y="613.70" font-family='"Liberation Sans", sans-serif' font-size="10" fill="#222" text-anchor="middle" font-weight="normal" >20</text>
<text x="678.40" y="613.70" font-family='"Liberation Sans", sans-serif' font-size="10" fill="#222" text-anchor="middle" font-weight="normal" >22</text>
<text x="597.8" y="625.6" font-family='"Liberation Sans", sans-serif' font-size="10.6" fill="#333" text-anchor="middle"><tspan font-family='"Liberation Serif", serif'>θ</tspan> (deg)</text>
<text x="0" y="0" transform="translate(508.79999999999995,550.45) rotate(-90)" font-family='"Liberation Sans", sans-serif' font-size="11.2" fill="#333" text-anchor="middle">Intensyty (%)</text>
<text x="676.90" y="510.70" font-family='"Liberation Sans", sans-serif' font-size="10.2" fill="#222" text-anchor="end" font-weight="normal" >200 kV/cm</text>
<text x="676.1999999999999" y="523.5" font-family='"Liberation Sans", sans-serif' font-size="10.2" fill="#222" text-anchor="end">Fe K<tspan font-family='"Liberation Serif", serif'>α</tspan></text>
<g transform="translate(580.50,595.30) rotate(0)"><text x="0" y="0" font-family='"Liberation Serif", serif' font-size="11" font-weight="normal" fill="#222">110</text><line x1="1.10" y1="-8.36" x2="4.40" y2="-8.36" stroke="#222" stroke-width="0.82"/><line x1="6.60" y1="-8.36" x2="9.90" y2="-8.36" stroke="#222" stroke-width="0.82"/></g>
<text x="607.40" y="642.10" font-family='"Liberation Sans", sans-serif' font-size="15.5" fill="#222" text-anchor="middle" font-weight="normal" >(l)</text>
</svg>
</body></html>
